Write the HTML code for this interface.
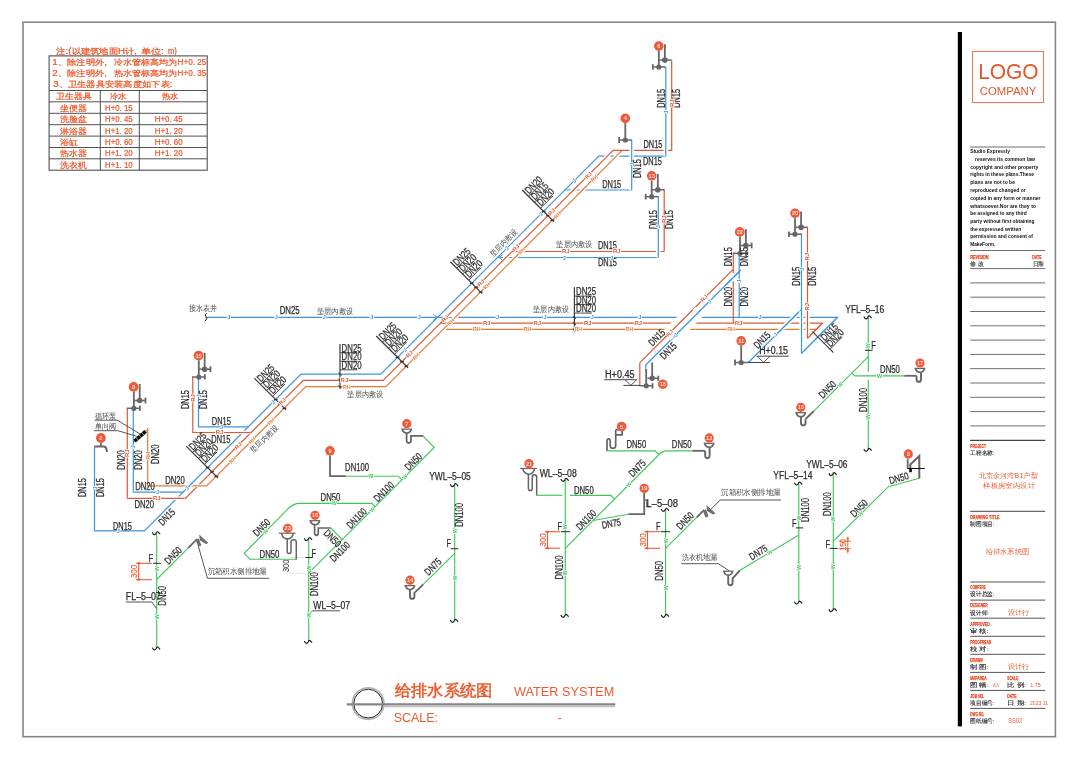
<!DOCTYPE html>
<html><head><meta charset="utf-8"><title>Water System</title>
<style>
html,body{margin:0;padding:0;background:#fff;}
body{width:1080px;height:758px;overflow:hidden;font-family:"Liberation Sans",sans-serif;}
svg{display:block;font-family:"Liberation Sans",sans-serif;will-change:transform;opacity:0.999;}
svg path, svg line{stroke-linecap:butt;stroke-linejoin:miter;}
.hl{paint-order:stroke;stroke:#fff;stroke-width:1.6px;stroke-linejoin:round;}
</style></head><body>
<svg width="1080" height="758" viewBox="0 0 1080 758">
<rect x="0" y="0" width="1080" height="758" fill="#ffffff"/>
<rect x="23" y="22.2" width="1032.4" height="714.5" fill="none" stroke="#858585" stroke-width="1.6"/>
<rect x="957.8" y="32" width="4.2" height="694.4" fill="#000"/>
<rect x="972.6" y="51.4" width="71" height="51.2" fill="none" stroke="#e8643f" stroke-width="0.9"/>
<text transform="translate(1008.4,71)" y="8.02" font-size="22.4" text-anchor="middle" fill="#e4572c" textLength="60.5" lengthAdjust="spacingAndGlyphs" >LOGO</text>
<text transform="translate(1008,91.6)" y="3.58" font-size="10" text-anchor="middle" fill="#e4572c" textLength="56.5" lengthAdjust="spacingAndGlyphs" >COMPANY</text>
<path d="M970.2,147 L1045.2,147" stroke="#6e6e6e" stroke-width="1" fill="none" />
<path d="M970.2,250.5 L1045.2,250.5" stroke="#6e6e6e" stroke-width="1" fill="none" />
<path d="M970.2,268.6 L1045.2,268.6" stroke="#6e6e6e" stroke-width="1" fill="none" />
<path d="M970.2,282.9 L1045.2,282.9" stroke="#6e6e6e" stroke-width="1" fill="none" />
<path d="M970.2,297.2 L1045.2,297.2" stroke="#6e6e6e" stroke-width="1" fill="none" />
<path d="M970.2,311.5 L1045.2,311.5" stroke="#6e6e6e" stroke-width="1" fill="none" />
<path d="M970.2,325.8 L1045.2,325.8" stroke="#6e6e6e" stroke-width="1" fill="none" />
<path d="M970.2,340.1 L1045.2,340.1" stroke="#6e6e6e" stroke-width="1" fill="none" />
<path d="M970.2,354.4 L1045.2,354.4" stroke="#6e6e6e" stroke-width="1" fill="none" />
<path d="M970.2,368.7 L1045.2,368.7" stroke="#6e6e6e" stroke-width="1" fill="none" />
<path d="M970.2,383 L1045.2,383" stroke="#6e6e6e" stroke-width="1" fill="none" />
<path d="M970.2,397.3 L1045.2,397.3" stroke="#6e6e6e" stroke-width="1" fill="none" />
<path d="M970.2,411.6 L1045.2,411.6" stroke="#6e6e6e" stroke-width="1" fill="none" />
<path d="M970.2,425.9 L1045.2,425.9" stroke="#6e6e6e" stroke-width="1" fill="none" />
<path d="M970.2,440.2 L1045.2,440.2" stroke="#6e6e6e" stroke-width="1" fill="none" />
<path d="M970.2,440.5 L1045.2,440.5" stroke="#444" stroke-width="1" fill="none" />
<path d="M970.2,511.3 L1045.2,511.3" stroke="#444" stroke-width="1" fill="none" />
<path d="M970.2,582 L1045.2,582" stroke="#555" stroke-width="1" fill="none" />
<path d="M970.2,600.1 L1045.2,600.1" stroke="#555" stroke-width="1" fill="none" />
<path d="M970.2,618.2 L1045.2,618.2" stroke="#555" stroke-width="1" fill="none" />
<path d="M970.2,636.3 L1045.2,636.3" stroke="#555" stroke-width="1" fill="none" />
<path d="M970.2,654.3 L1045.2,654.3" stroke="#555" stroke-width="1" fill="none" />
<path d="M970.2,672.4 L1045.2,672.4" stroke="#555" stroke-width="1" fill="none" />
<path d="M970.2,690.4 L1045.2,690.4" stroke="#555" stroke-width="1" fill="none" />
<path d="M970.2,708.4 L1045.2,708.4" stroke="#555" stroke-width="1" fill="none" />
<text transform="translate(970.2,151.1)" y="1.59" font-size="5.3" text-anchor="start" fill="#111" textLength="39.7" lengthAdjust="spacingAndGlyphs" font-weight="bold">Studio Expressly</text>
<text transform="translate(975,159.4)" y="1.59" font-size="5.3" text-anchor="start" fill="#111" textLength="59.9" lengthAdjust="spacingAndGlyphs" font-weight="bold">reserves its common law</text>
<text transform="translate(970.2,167.4)" y="1.59" font-size="5.3" text-anchor="start" fill="#111" textLength="68" lengthAdjust="spacingAndGlyphs" font-weight="bold">copyright and other property</text>
<text transform="translate(970.2,174.8)" y="1.59" font-size="5.3" text-anchor="start" fill="#111" textLength="63.9" lengthAdjust="spacingAndGlyphs" font-weight="bold">rights in these plans.These</text>
<text transform="translate(970.2,182.9)" y="1.59" font-size="5.3" text-anchor="start" fill="#111" textLength="44.8" lengthAdjust="spacingAndGlyphs" font-weight="bold">plans are not to be</text>
<text transform="translate(970.2,190.4)" y="1.59" font-size="5.3" text-anchor="start" fill="#111" textLength="55.4" lengthAdjust="spacingAndGlyphs" font-weight="bold">reproduced changed or</text>
<text transform="translate(970.2,198)" y="1.59" font-size="5.3" text-anchor="start" fill="#111" textLength="70.2" lengthAdjust="spacingAndGlyphs" font-weight="bold">copied in any form or manner</text>
<text transform="translate(970.2,206)" y="1.59" font-size="5.3" text-anchor="start" fill="#111" textLength="65.8" lengthAdjust="spacingAndGlyphs" font-weight="bold">whatsoever.Nor are they to</text>
<text transform="translate(970.2,213.6)" y="1.59" font-size="5.3" text-anchor="start" fill="#111" textLength="56.5" lengthAdjust="spacingAndGlyphs" font-weight="bold">be assigned to any third</text>
<text transform="translate(970.2,221.1)" y="1.59" font-size="5.3" text-anchor="start" fill="#111" textLength="64.3" lengthAdjust="spacingAndGlyphs" font-weight="bold">party without first obtaining</text>
<text transform="translate(970.2,229.5)" y="1.59" font-size="5.3" text-anchor="start" fill="#111" textLength="51" lengthAdjust="spacingAndGlyphs" font-weight="bold">the expressed written</text>
<text transform="translate(970.2,236.9)" y="1.59" font-size="5.3" text-anchor="start" fill="#111" textLength="62.8" lengthAdjust="spacingAndGlyphs" font-weight="bold">permission and consent of</text>
<text transform="translate(970.2,244.1)" y="1.59" font-size="5.3" text-anchor="start" fill="#111" textLength="25.1" lengthAdjust="spacingAndGlyphs" font-weight="bold">MakeForm.</text>
<text transform="translate(970.2,256.6)" y="2" font-size="5.6" text-anchor="start" fill="#e8431a" textLength="18.4" lengthAdjust="spacingAndGlyphs" font-weight="bold" stroke="#e8431a" stroke-width="0.25">REVISION</text>
<text transform="translate(1032.3,256.6)" y="2" font-size="5.6" text-anchor="start" fill="#e8431a" textLength="9.2" lengthAdjust="spacingAndGlyphs" font-weight="bold" stroke="#e8431a" stroke-width="0.25">DATE</text>
<text transform="translate(970.2,263.8)" y="2.02" font-size="5.6" text-anchor="start" fill="#2a2a2a" textLength="13.8" lengthAdjust="spacingAndGlyphs" stroke="#2a2a2a" stroke-width="0.12">修 改</text>
<text transform="translate(1032.6,263.8)" y="2.02" font-size="5.6" text-anchor="start" fill="#2a2a2a" textLength="11.1" lengthAdjust="spacingAndGlyphs" stroke="#2a2a2a" stroke-width="0.12">日期</text>
<text transform="translate(970.2,445.7)" y="2" font-size="5.6" text-anchor="start" fill="#e8431a" textLength="15.8" lengthAdjust="spacingAndGlyphs" font-weight="bold" stroke="#e8431a" stroke-width="0.25">PROJECT</text>
<text transform="translate(970.2,453.3)" y="2.02" font-size="5.6" text-anchor="start" fill="#2a2a2a" textLength="24.2" lengthAdjust="spacingAndGlyphs" stroke="#2a2a2a" stroke-width="0.12">工程名称:</text>
<text transform="translate(1008.3,474.9)" y="2.65" font-size="7.4" text-anchor="middle" fill="#ee5a2e" textLength="58.6" lengthAdjust="spacingAndGlyphs" >北京金河湾B1户型</text>
<text transform="translate(1009.1,485.1)" y="2.65" font-size="7.4" text-anchor="middle" fill="#ee5a2e" textLength="51.6" lengthAdjust="spacingAndGlyphs" >样板房室内设计</text>
<text transform="translate(970.2,516.5)" y="2" font-size="5.6" text-anchor="start" fill="#e8431a" textLength="29.2" lengthAdjust="spacingAndGlyphs" font-weight="bold" stroke="#e8431a" stroke-width="0.25">DRAWING TITLE</text>
<text transform="translate(970.2,524.1)" y="2.02" font-size="5.6" text-anchor="start" fill="#2a2a2a" textLength="24.2" lengthAdjust="spacingAndGlyphs" stroke="#2a2a2a" stroke-width="0.12">制图项目:</text>
<text transform="translate(1007.4,551.4)" y="2.65" font-size="7.4" text-anchor="middle" fill="#ee5a2e" textLength="43.8" lengthAdjust="spacingAndGlyphs" >给排水系统图</text>
<text transform="translate(970.2,587.3)" y="2" font-size="5.6" text-anchor="start" fill="#e8431a" textLength="15.5" lengthAdjust="spacingAndGlyphs" font-weight="bold" stroke="#e8431a" stroke-width="0.25">COMPERE</text>
<text transform="translate(970.2,594.4)" y="2.02" font-size="5.6" text-anchor="start" fill="#2a2a2a" textLength="24.2" lengthAdjust="spacingAndGlyphs" stroke="#2a2a2a" stroke-width="0.12">设计总监:</text>
<text transform="translate(970.2,605.4)" y="2" font-size="5.6" text-anchor="start" fill="#e8431a" textLength="17.5" lengthAdjust="spacingAndGlyphs" font-weight="bold" stroke="#e8431a" stroke-width="0.25">DESIGNER</text>
<text transform="translate(970.2,612.5)" y="2.02" font-size="5.6" text-anchor="start" fill="#2a2a2a" textLength="18.5" lengthAdjust="spacingAndGlyphs" stroke="#2a2a2a" stroke-width="0.12">设计师:</text>
<text transform="translate(970.2,623.5)" y="2" font-size="5.6" text-anchor="start" fill="#e8431a" textLength="19.5" lengthAdjust="spacingAndGlyphs" font-weight="bold" stroke="#e8431a" stroke-width="0.25">APPROVED</text>
<text transform="translate(970.2,630.6)" y="2.02" font-size="5.6" text-anchor="start" fill="#2a2a2a" textLength="18.5" lengthAdjust="spacingAndGlyphs" stroke="#2a2a2a" stroke-width="0.12">审 核:</text>
<text transform="translate(970.2,641.6)" y="2" font-size="5.6" text-anchor="start" fill="#e8431a" textLength="21" lengthAdjust="spacingAndGlyphs" font-weight="bold" stroke="#e8431a" stroke-width="0.25">PROOFREAD</text>
<text transform="translate(970.2,648.7)" y="2.02" font-size="5.6" text-anchor="start" fill="#2a2a2a" textLength="18.5" lengthAdjust="spacingAndGlyphs" stroke="#2a2a2a" stroke-width="0.12">校 对:</text>
<text transform="translate(970.2,659.6)" y="2" font-size="5.6" text-anchor="start" fill="#e8431a" textLength="12.5" lengthAdjust="spacingAndGlyphs" font-weight="bold" stroke="#e8431a" stroke-width="0.25">DRAWN</text>
<text transform="translate(970.2,666.7)" y="2.02" font-size="5.6" text-anchor="start" fill="#2a2a2a" textLength="18.5" lengthAdjust="spacingAndGlyphs" stroke="#2a2a2a" stroke-width="0.12">制 图:</text>
<text transform="translate(970.2,677.7)" y="2" font-size="5.6" text-anchor="start" fill="#e8431a" textLength="16.5" lengthAdjust="spacingAndGlyphs" font-weight="bold" stroke="#e8431a" stroke-width="0.25">MAPAREA</text>
<text transform="translate(970.2,684.8)" y="2.02" font-size="5.6" text-anchor="start" fill="#2a2a2a" textLength="18.5" lengthAdjust="spacingAndGlyphs" stroke="#2a2a2a" stroke-width="0.12">图 幅:</text>
<text transform="translate(970.2,695.7)" y="2" font-size="5.6" text-anchor="start" fill="#e8431a" textLength="14" lengthAdjust="spacingAndGlyphs" font-weight="bold" stroke="#e8431a" stroke-width="0.25">JOB NO.</text>
<text transform="translate(970.2,702.8)" y="2.02" font-size="5.6" text-anchor="start" fill="#2a2a2a" textLength="24.2" lengthAdjust="spacingAndGlyphs" stroke="#2a2a2a" stroke-width="0.12">项目编号:</text>
<text transform="translate(970.2,713.7)" y="2" font-size="5.6" text-anchor="start" fill="#e8431a" textLength="14" lengthAdjust="spacingAndGlyphs" font-weight="bold" stroke="#e8431a" stroke-width="0.25">DWG NO.</text>
<text transform="translate(970.2,720.8)" y="2.02" font-size="5.6" text-anchor="start" fill="#2a2a2a" textLength="24.2" lengthAdjust="spacingAndGlyphs" stroke="#2a2a2a" stroke-width="0.12">图纸编号:</text>
<text transform="translate(1007.3,677.7)" y="2" font-size="5.6" text-anchor="start" fill="#e8431a" textLength="11" lengthAdjust="spacingAndGlyphs" font-weight="bold" stroke="#e8431a" stroke-width="0.25">SCALE</text>
<text transform="translate(1007.3,684.8)" y="2.02" font-size="5.6" text-anchor="start" fill="#2a2a2a" textLength="18.7" lengthAdjust="spacingAndGlyphs" stroke="#2a2a2a" stroke-width="0.12">比 例:</text>
<text transform="translate(1007.3,695.7)" y="2" font-size="5.6" text-anchor="start" fill="#e8431a" textLength="9.2" lengthAdjust="spacingAndGlyphs" font-weight="bold" stroke="#e8431a" stroke-width="0.25">DATE</text>
<text transform="translate(1007.3,702.8)" y="2.02" font-size="5.6" text-anchor="start" fill="#2a2a2a" textLength="18.7" lengthAdjust="spacingAndGlyphs" stroke="#2a2a2a" stroke-width="0.12">日 期:</text>
<text transform="translate(1018.3,612.2)" y="2.61" font-size="7.3" text-anchor="middle" fill="#ee5a2e" textLength="21.3" lengthAdjust="spacingAndGlyphs" >设计行</text>
<text transform="translate(1018.3,666.4)" y="2.61" font-size="7.3" text-anchor="middle" fill="#ee5a2e" textLength="21.3" lengthAdjust="spacingAndGlyphs" >设计行</text>
<text transform="translate(995.9,684.8)" y="1.79" font-size="5" text-anchor="middle" fill="#ee5a2e" textLength="5.6" lengthAdjust="spacingAndGlyphs" >A3</text>
<text transform="translate(1035.4,684.8)" y="1.79" font-size="5" text-anchor="middle" fill="#ee5a2e" textLength="10.5" lengthAdjust="spacingAndGlyphs" >1:75</text>
<text transform="translate(1039,702.8)" y="1.79" font-size="5" text-anchor="middle" fill="#ee5a2e" textLength="18" lengthAdjust="spacingAndGlyphs" >2023.11</text>
<text transform="translate(1015.2,720.8)" y="2.51" font-size="7" text-anchor="middle" fill="#ee5a2e" textLength="14.1" lengthAdjust="spacingAndGlyphs" >SS02</text>
<circle cx="368.2" cy="703.6" r="15.8" fill="none" stroke="#b0b0b0" stroke-width="1.6"/>
<circle cx="368.2" cy="703.6" r="14.4" fill="none" stroke="#222" stroke-width="1"/>
<path d="M346.7,704.4 L615.2,704.4" stroke="#858585" stroke-width="2.3" fill="none" />
<path d="M383.5,706.4 L615.2,706.4" stroke="#bdbdbd" stroke-width="1.5" fill="none" />
<text transform="translate(443.5,690.4)" y="5.99" font-size="16.2" text-anchor="middle" fill="#ee5526" textLength="98" lengthAdjust="spacingAndGlyphs" stroke="#ee5526" stroke-width="0.45">给排水系统图</text>
<text transform="translate(564.2,691.1)" y="4.76" font-size="13.3" text-anchor="middle" fill="#ee5a2e" textLength="100.4" lengthAdjust="spacingAndGlyphs" >WATER SYSTEM</text>
<text transform="translate(415.8,717.1)" y="4.65" font-size="13" text-anchor="middle" fill="#ee5a2e" textLength="44.3" lengthAdjust="spacingAndGlyphs" >SCALE:</text>
<text transform="translate(559.7,717.5)" y="4.65" font-size="13" text-anchor="middle" fill="#ee5a2e" >-</text>
<rect x="49.1" y="55.9" width="158.1" height="114.3" fill="none" stroke="#505050" stroke-width="1.1"/>
<path d="M49.1,90.5 L207.2,90.5" stroke="#505050" stroke-width="1" fill="none" />
<path d="M49.1,101.8 L207.2,101.8" stroke="#505050" stroke-width="1" fill="none" />
<path d="M49.1,113.3 L207.2,113.3" stroke="#505050" stroke-width="1" fill="none" />
<path d="M49.1,124.7 L207.2,124.7" stroke="#505050" stroke-width="1" fill="none" />
<path d="M49.1,136.1 L207.2,136.1" stroke="#505050" stroke-width="1" fill="none" />
<path d="M49.1,147.5 L207.2,147.5" stroke="#505050" stroke-width="1" fill="none" />
<path d="M49.1,158.8 L207.2,158.8" stroke="#505050" stroke-width="1" fill="none" />
<path d="M100.3,90.5 L100.3,170.2" stroke="#505050" stroke-width="1" fill="none" />
<path d="M139.3,90.5 L139.3,170.2" stroke="#505050" stroke-width="1" fill="none" />
<text transform="translate(56.3,51.3)" y="3.11" font-size="8.4" text-anchor="start" fill="#ef5424" textLength="80.7" lengthAdjust="spacingAndGlyphs" stroke="#ef5424" stroke-width="0.22">注:(以建筑地面H计,</text>
<text transform="translate(140.6,51.3)" y="3.11" font-size="8.4" text-anchor="start" fill="#ef5424" textLength="23.4" lengthAdjust="spacingAndGlyphs" stroke="#ef5424" stroke-width="0.22">单位:</text>
<text transform="translate(168,51.3)" y="3.11" font-size="8.4" text-anchor="start" fill="#ef5424" textLength="8.9" lengthAdjust="spacingAndGlyphs" stroke="#ef5424" stroke-width="0.22">m)</text>
<text transform="translate(52.3,62)" y="3.11" font-size="8.4" text-anchor="start" fill="#ef5424" textLength="54.7" lengthAdjust="spacingAndGlyphs" stroke="#ef5424" stroke-width="0.22">1、除注明外,</text>
<text transform="translate(113.5,62)" y="3.11" font-size="8.4" text-anchor="start" fill="#ef5424" textLength="63.7" lengthAdjust="spacingAndGlyphs" stroke="#ef5424" stroke-width="0.22">冷水管标高均为</text>
<text transform="translate(177.6,62)" y="3.11" font-size="8.4" text-anchor="start" fill="#ef5424" textLength="28.7" lengthAdjust="spacingAndGlyphs" stroke="#ef5424" stroke-width="0.22">H+0. 25</text>
<text transform="translate(52.3,73.3)" y="3.11" font-size="8.4" text-anchor="start" fill="#ef5424" textLength="54.7" lengthAdjust="spacingAndGlyphs" stroke="#ef5424" stroke-width="0.22">2、除注明外,</text>
<text transform="translate(113.5,73.3)" y="3.11" font-size="8.4" text-anchor="start" fill="#ef5424" textLength="63.7" lengthAdjust="spacingAndGlyphs" stroke="#ef5424" stroke-width="0.22">热水管标高均为</text>
<text transform="translate(177.6,73.3)" y="3.11" font-size="8.4" text-anchor="start" fill="#ef5424" textLength="28.7" lengthAdjust="spacingAndGlyphs" stroke="#ef5424" stroke-width="0.22">H+0. 35</text>
<text transform="translate(53.3,83.7)" y="3.11" font-size="8.4" text-anchor="start" fill="#ef5424" textLength="119.2" lengthAdjust="spacingAndGlyphs" stroke="#ef5424" stroke-width="0.22">3、卫生器具安装高度如下表:</text>
<text transform="translate(56.2,96.2)" y="3.11" font-size="8.4" text-anchor="start" fill="#ef5424" textLength="35.5" lengthAdjust="spacingAndGlyphs" stroke="#ef5424" stroke-width="0.22">卫生器具</text>
<text transform="translate(110,96.2)" y="3.11" font-size="8.4" text-anchor="start" fill="#ef5424" textLength="16.7" lengthAdjust="spacingAndGlyphs" stroke="#ef5424" stroke-width="0.22">冷水</text>
<text transform="translate(161.7,96.2)" y="3.11" font-size="8.4" text-anchor="start" fill="#ef5424" textLength="16.6" lengthAdjust="spacingAndGlyphs" stroke="#ef5424" stroke-width="0.22">热水</text>
<text transform="translate(60.3,107.6)" y="3.11" font-size="8.4" text-anchor="start" fill="#ef5424" textLength="26.7" lengthAdjust="spacingAndGlyphs" stroke="#ef5424" stroke-width="0.22">坐便器</text>
<text transform="translate(105,107.6)" y="3.11" font-size="8.4" text-anchor="start" fill="#ef5424" textLength="27.7" lengthAdjust="spacingAndGlyphs" stroke="#ef5424" stroke-width="0.22">H+0. 15</text>
<text transform="translate(60.3,119)" y="3.11" font-size="8.4" text-anchor="start" fill="#ef5424" textLength="26.7" lengthAdjust="spacingAndGlyphs" stroke="#ef5424" stroke-width="0.22">洗脸盆</text>
<text transform="translate(105,119)" y="3.11" font-size="8.4" text-anchor="start" fill="#ef5424" textLength="27.7" lengthAdjust="spacingAndGlyphs" stroke="#ef5424" stroke-width="0.22">H+0. 45</text>
<text transform="translate(154.7,119)" y="3.11" font-size="8.4" text-anchor="start" fill="#ef5424" textLength="27.9" lengthAdjust="spacingAndGlyphs" stroke="#ef5424" stroke-width="0.22">H+0. 45</text>
<text transform="translate(60.3,130.4)" y="3.11" font-size="8.4" text-anchor="start" fill="#ef5424" textLength="26.7" lengthAdjust="spacingAndGlyphs" stroke="#ef5424" stroke-width="0.22">淋浴器</text>
<text transform="translate(105,130.4)" y="3.11" font-size="8.4" text-anchor="start" fill="#ef5424" textLength="27.7" lengthAdjust="spacingAndGlyphs" stroke="#ef5424" stroke-width="0.22">H+1. 20</text>
<text transform="translate(154.7,130.4)" y="3.11" font-size="8.4" text-anchor="start" fill="#ef5424" textLength="27.9" lengthAdjust="spacingAndGlyphs" stroke="#ef5424" stroke-width="0.22">H+1. 20</text>
<text transform="translate(60.3,141.8)" y="3.11" font-size="8.4" text-anchor="start" fill="#ef5424" textLength="17.8" lengthAdjust="spacingAndGlyphs" stroke="#ef5424" stroke-width="0.22">浴缸</text>
<text transform="translate(105,141.8)" y="3.11" font-size="8.4" text-anchor="start" fill="#ef5424" textLength="27.7" lengthAdjust="spacingAndGlyphs" stroke="#ef5424" stroke-width="0.22">H+0. 60</text>
<text transform="translate(154.7,141.8)" y="3.11" font-size="8.4" text-anchor="start" fill="#ef5424" textLength="27.9" lengthAdjust="spacingAndGlyphs" stroke="#ef5424" stroke-width="0.22">H+0. 60</text>
<text transform="translate(60.3,153.2)" y="3.11" font-size="8.4" text-anchor="start" fill="#ef5424" textLength="26.7" lengthAdjust="spacingAndGlyphs" stroke="#ef5424" stroke-width="0.22">热水器</text>
<text transform="translate(105,153.2)" y="3.11" font-size="8.4" text-anchor="start" fill="#ef5424" textLength="27.7" lengthAdjust="spacingAndGlyphs" stroke="#ef5424" stroke-width="0.22">H+1. 20</text>
<text transform="translate(154.7,153.2)" y="3.11" font-size="8.4" text-anchor="start" fill="#ef5424" textLength="27.9" lengthAdjust="spacingAndGlyphs" stroke="#ef5424" stroke-width="0.22">H+1. 20</text>
<text transform="translate(60.3,164.6)" y="3.11" font-size="8.4" text-anchor="start" fill="#ef5424" textLength="26.7" lengthAdjust="spacingAndGlyphs" stroke="#ef5424" stroke-width="0.22">洗衣机</text>
<text transform="translate(105,164.6)" y="3.11" font-size="8.4" text-anchor="start" fill="#ef5424" textLength="27.7" lengthAdjust="spacingAndGlyphs" stroke="#ef5424" stroke-width="0.22">H+1. 10</text>
<path d="M147.7,428 L147.7,485.8 L206.6,485.8 L305.7,386.7 L385.8,386.7 L622.2,150.3" stroke="#e67c34" stroke-width="1.2" fill="none" />
<path d="M127.3,407.8 L127.3,498.3 L185.4,498.3 L303.4,380.3 L383.2,380.3 L613.2,150.3 L671.7,150.3 L671.7,60.3" stroke="#dc5a3a" stroke-width="1.2" fill="none" />
<path d="M94.5,446.6 L94.5,530.8 L144.4,530.8 L301,374.2 L380.8,374.2 L598.8,156.2 L665.8,156.2" stroke="#3f95db" stroke-width="1.2" fill="none" />
<path d="M443.1,329.4 L816.4,329.4" stroke="#e67c34" stroke-width="1.2" fill="none" />
<path d="M440.3,323.2 L822.5,323.2 L807.5,338.3" stroke="#dc5a3a" stroke-width="1.2" fill="none" />
<path d="M205.5,317.3 L837.5,317.3 L801.5,353.3" stroke="#3f95db" stroke-width="1.2" fill="none" />
<path d="M512,251.5 L664.2,251.5" stroke="#dc5a3a" stroke-width="1.2" fill="none" />
<path d="M497.5,257.5 L658.3,257.5" stroke="#3f95db" stroke-width="1.2" fill="none" />
<path d="M565,190 L631.7,190" stroke="#3f95db" stroke-width="1.2" fill="none" />
<path d="M133.3,408.3 L133.3,492.2 L183,492.2" stroke="#3f95db" stroke-width="1.2" fill="none" />
<path d="M192.8,377 L192.8,432.5 L251.2,432.5" stroke="#dc5a3a" stroke-width="1.2" fill="none" />
<path d="M198.5,377 L198.5,426.8 L248.4,426.8" stroke="#3f95db" stroke-width="1.2" fill="none" />
<path d="M150,498.3 L184.4,498.3" stroke="#fff" stroke-width="3.6" fill="none" />
<path d="M150,498.3 L184.4,498.3" stroke="#dc5a3a" stroke-width="1.2" fill="none" />
<path d="M127.3,480 L127.3,497.6" stroke="#fff" stroke-width="3" fill="none" />
<path d="M127.3,480 L127.3,497.6" stroke="#dc5a3a" stroke-width="1.2" fill="none" />
<path d="M133.3,470 L133.3,491.6" stroke="#fff" stroke-width="3" fill="none" />
<path d="M133.3,470 L133.3,491.6" stroke="#3f95db" stroke-width="1.2" fill="none" />
<path d="M160,485.8 L202.6,485.8" stroke="#fff" stroke-width="3" fill="none" />
<path d="M160,485.8 L202.6,485.8" stroke="#e67c34" stroke-width="1.2" fill="none" />
<path d="M193.2,482 L185.7,489.5" stroke="#fff" stroke-width="4" fill="none" />
<path d="M193.2,482 L185.7,489.5" stroke="#3f95db" stroke-width="1.2" fill="none" />
<path d="M236,432.5 L250.7,432.5" stroke="#fff" stroke-width="3.4" fill="none" />
<path d="M236,432.5 L250.7,432.5" stroke="#dc5a3a" stroke-width="1.2" fill="none" />
<path d="M440,323.5 L451.2,312.3" stroke="#fff" stroke-width="4.4" fill="none" />
<path d="M440,323.5 L451.2,312.3" stroke="#dc5a3a" stroke-width="1.2" fill="none" />
<path d="M501,262.5 L511.5,252" stroke="#fff" stroke-width="4.4" fill="none" />
<path d="M501,262.5 L511.5,252" stroke="#dc5a3a" stroke-width="1.2" fill="none" />
<path d="M569,194.5 L578,185.5" stroke="#fff" stroke-width="4.4" fill="none" />
<path d="M569,194.5 L578,185.5" stroke="#dc5a3a" stroke-width="1.2" fill="none" />
<path d="M602.8,160.7 L610.3,153.2" stroke="#fff" stroke-width="4.4" fill="none" />
<path d="M602.8,160.7 L610.3,153.2" stroke="#dc5a3a" stroke-width="1.2" fill="none" />
<path d="M442.1,330.4 L460.2,312.3" stroke="#fff" stroke-width="4.4" fill="none" />
<path d="M442.1,330.4 L460.2,312.3" stroke="#e67c34" stroke-width="1.2" fill="none" />
<path d="M510,262.5 L520.5,252" stroke="#fff" stroke-width="4.4" fill="none" />
<path d="M510,262.5 L520.5,252" stroke="#e67c34" stroke-width="1.2" fill="none" />
<path d="M578,194.5 L587,185.5" stroke="#fff" stroke-width="4.4" fill="none" />
<path d="M578,194.5 L587,185.5" stroke="#e67c34" stroke-width="1.2" fill="none" />
<path d="M611.8,160.7 L619.3,153.2" stroke="#fff" stroke-width="4.4" fill="none" />
<path d="M611.8,160.7 L619.3,153.2" stroke="#e67c34" stroke-width="1.2" fill="none" />
<path d="M440.3,323.2 L444.3,323.2" stroke="#dc5a3a" stroke-width="1.2" fill="none" />
<path d="M512,251.5 L516,251.5" stroke="#dc5a3a" stroke-width="1.2" fill="none" />
<path d="M665.8,156.2 L665.8,67" stroke="#fff" stroke-width="4.6" fill="none" />
<path d="M665.8,156.2 L665.8,67" stroke="#3f95db" stroke-width="1.2" fill="none" />
<path d="M631.7,190 L631.7,140" stroke="#fff" stroke-width="4.6" fill="none" />
<path d="M631.7,190 L631.7,140" stroke="#3f95db" stroke-width="1.2" fill="none" />
<path d="M658.3,257.5 L658.3,196.7" stroke="#fff" stroke-width="4.6" fill="none" />
<path d="M658.3,257.5 L658.3,196.7" stroke="#3f95db" stroke-width="1.2" fill="none" />
<path d="M664.2,251.5 L664.2,189.5" stroke="#dc5a3a" stroke-width="1.2" fill="none" />
<path d="M733.3,253.3 L733.3,323.2" stroke="#dc5a3a" stroke-width="1.2" fill="none" />
<path d="M739.2,253.3 L739.2,317.3" stroke="#3f95db" stroke-width="1.2" fill="none" />
<path d="M639.8,362.7 L639.8,385.8" stroke="#dc5a3a" stroke-width="1.2" fill="none" />
<path d="M645.8,365 L645.8,371" stroke="#3f95db" stroke-width="1.2" fill="none" />
<path d="M733.3,269.2 L690.5,312" stroke="#dc5a3a" stroke-width="1.2" fill="none" />
<path d="M667.5,335 L639.8,362.7" stroke="#dc5a3a" stroke-width="1.2" fill="none" />
<path d="M739.2,271.6 L698.8,312" stroke="#3f95db" stroke-width="1.2" fill="none" />
<path d="M675.8,335 L645.8,365" stroke="#3f95db" stroke-width="1.2" fill="none" />
<path d="M691.5,311 L666.5,336" stroke="#fff" stroke-width="12" fill="none" />
<path d="M699.8,311 L674.8,336" stroke="#fff" stroke-width="12" fill="none" />
<path d="M692.5,310 L665.5,337" stroke="#dc5a3a" stroke-width="1.2" fill="none" />
<path d="M700.8,310 L673.8,337" stroke="#3f95db" stroke-width="1.2" fill="none" />
<path d="M733.3,273.2 L733.3,281.4" stroke="#fff" stroke-width="2.4" fill="none" />
<path d="M740.8,270 L725.8,285" stroke="#3f95db" stroke-width="1.2" fill="none" />
<path d="M775,335.8 L799,311.8" stroke="#fff" stroke-width="4.6" fill="none" />
<path d="M775,335.8 L799,311.8" stroke="#3f95db" stroke-width="1.2" fill="none" />
<path d="M748.3,362.5 L801.5,309.3" stroke="#3f95db" stroke-width="1.2" fill="none" />
<path d="M801.5,353.3 L801.5,311" stroke="#fff" stroke-width="4.4" fill="none" />
<path d="M801.5,353.3 L801.5,311" stroke="#3f95db" stroke-width="1.2" fill="none" />
<path d="M801.5,311 L801.5,234.2" stroke="#3f95db" stroke-width="1.2" fill="none" />
<path d="M807.5,338.3 L807.5,312" stroke="#fff" stroke-width="4.4" fill="none" />
<path d="M807.5,338.3 L807.5,312" stroke="#dc5a3a" stroke-width="1.2" fill="none" />
<path d="M807.5,312 L807.5,227.5" stroke="#dc5a3a" stroke-width="1.2" fill="none" />
<path d="M822.5,323.2 L807.5,338.3" stroke="#dc5a3a" stroke-width="1.2" fill="none" />
<path d="M837.5,317.3 L801.5,353.3" stroke="#3f95db" stroke-width="1.2" fill="none" />
<path d="M133.3,442.2 L134.4,441.4" stroke="#000" stroke-width="1" fill="none" />
<path d="M134.6,441.2 L146,431" stroke="#000" stroke-width="3.6" fill="none" stroke-dasharray="3.3 0.5"/>
<path d="M146,431 L147.7,429.4" stroke="#e67c34" stroke-width="1.2" fill="none" />
<path d="M206.6,313.2 q-2.6,1.6 -0.6,3.6 q2.4,2 -1.2,4.4" stroke="#111" stroke-width="0.9" fill="none" />
<path d="M433.1,314.2 l4.2,3.1 l-4.2,3.1" stroke="#3f95db" stroke-width="0.9" fill="none" />
<path d="M502.7,254.5 l-3.6,3 l3.6,3" stroke="#3f95db" stroke-width="0.9" fill="none" />
<path d="M133.85,391.6 L133.85,408.3" stroke="#666666" stroke-width="1.8" fill="none" />
<path d="M127.05,408.3 L139.85,408.3" stroke="#666666" stroke-width="1.5" fill="none" />
<path d="M139.85,405.5 L139.85,410.9" stroke="#666666" stroke-width="1.8" fill="none" />
<circle cx="133.85" cy="408.3" r="2.6" fill="#666666"/>
<path d="M139.7,384.1 L139.7,400.5" stroke="#666666" stroke-width="1.8" fill="none" />
<path d="M133.35,400.5 L145.5,400.5" stroke="#666666" stroke-width="1.5" fill="none" />
<path d="M145.5,397.6 L145.5,403.4" stroke="#666666" stroke-width="1.8" fill="none" />
<circle cx="139.7" cy="400.5" r="2.8" fill="#666666"/>
<circle cx="133.6" cy="386.9" r="4.9" fill="#f05a3a"/>
<text transform="translate(133.6,386.9)" y="2.02" font-size="5.6" text-anchor="middle" fill="#fff" font-weight="bold" opacity="0.82">8</text>
<path d="M198.8,360.3 L198.8,377" stroke="#666666" stroke-width="1.8" fill="none" />
<path d="M192,377 L204.8,377" stroke="#666666" stroke-width="1.5" fill="none" />
<path d="M204.8,374.2 L204.8,379.6" stroke="#666666" stroke-width="1.8" fill="none" />
<circle cx="198.8" cy="377" r="2.6" fill="#666666"/>
<path d="M204.65,352.8 L204.65,369.2" stroke="#666666" stroke-width="1.8" fill="none" />
<path d="M198.3,369.2 L210.45,369.2" stroke="#666666" stroke-width="1.5" fill="none" />
<path d="M210.45,366.3 L210.45,372.1" stroke="#666666" stroke-width="1.8" fill="none" />
<circle cx="204.65" cy="369.2" r="2.8" fill="#666666"/>
<circle cx="198.55" cy="355.6" r="4.9" fill="#f05a3a"/>
<text transform="translate(198.55,355.6)" y="2.02" font-size="5.6" text-anchor="middle" fill="#fff" font-weight="bold" opacity="0.82">15</text>
<path d="M740,236.6 L740,253.3" stroke="#666666" stroke-width="1.8" fill="none" />
<path d="M733.2,253.3 L746,253.3" stroke="#666666" stroke-width="1.5" fill="none" />
<path d="M746,250.5 L746,255.9" stroke="#666666" stroke-width="1.8" fill="none" />
<circle cx="740" cy="253.3" r="2.6" fill="#666666"/>
<path d="M745.85,229.1 L745.85,245.5" stroke="#666666" stroke-width="1.8" fill="none" />
<path d="M739.5,245.5 L751.65,245.5" stroke="#666666" stroke-width="1.5" fill="none" />
<path d="M751.65,242.6 L751.65,248.4" stroke="#666666" stroke-width="1.8" fill="none" />
<circle cx="745.85" cy="245.5" r="2.8" fill="#666666"/>
<circle cx="739.75" cy="231.9" r="4.9" fill="#f05a3a"/>
<text transform="translate(739.75,231.9)" y="2.02" font-size="5.6" text-anchor="middle" fill="#fff" font-weight="bold" opacity="0.82">22</text>
<path d="M658.8,51 L658.8,67" stroke="#666666" stroke-width="1.8" fill="none" />
<path d="M652.8,67 L665.8,67" stroke="#666666" stroke-width="1.5" fill="none" />
<path d="M652.8,64.2 L652.8,69.8" stroke="#666666" stroke-width="1.8" fill="none" />
<circle cx="658.8" cy="67" r="2.6" fill="#666666"/>
<path d="M664.9,44.2 L664.9,60.1" stroke="#666666" stroke-width="1.8" fill="none" />
<path d="M658.8,60.1 L671.6,60.1" stroke="#666666" stroke-width="1.5" fill="none" />
<circle cx="664.9" cy="60.1" r="2.8" fill="#666666"/>
<circle cx="658.8" cy="46.1" r="4.8" fill="#f05a3a"/>
<text transform="translate(658.8,46.1)" y="2.02" font-size="5.6" text-anchor="middle" fill="#fff" font-weight="bold" opacity="0.82">6</text>
<path d="M651.7,180.7 L651.7,196.7" stroke="#666666" stroke-width="1.8" fill="none" />
<path d="M645.7,196.7 L658.7,196.7" stroke="#666666" stroke-width="1.5" fill="none" />
<path d="M645.7,193.9 L645.7,199.5" stroke="#666666" stroke-width="1.8" fill="none" />
<circle cx="651.7" cy="196.7" r="2.6" fill="#666666"/>
<path d="M657.8,173.9 L657.8,189.8" stroke="#666666" stroke-width="1.8" fill="none" />
<path d="M651.7,189.8 L664.5,189.8" stroke="#666666" stroke-width="1.5" fill="none" />
<circle cx="657.8" cy="189.8" r="2.8" fill="#666666"/>
<circle cx="651.7" cy="175.8" r="4.8" fill="#f05a3a"/>
<text transform="translate(651.7,175.8)" y="2.02" font-size="5.6" text-anchor="middle" fill="#fff" font-weight="bold" opacity="0.82">13</text>
<path d="M795,218.2 L795,234.2" stroke="#666666" stroke-width="1.8" fill="none" />
<path d="M789,234.2 L802,234.2" stroke="#666666" stroke-width="1.5" fill="none" />
<path d="M789,231.4 L789,237" stroke="#666666" stroke-width="1.8" fill="none" />
<circle cx="795" cy="234.2" r="2.6" fill="#666666"/>
<path d="M801.1,211.4 L801.1,227.3" stroke="#666666" stroke-width="1.8" fill="none" />
<path d="M795,227.3 L807.8,227.3" stroke="#666666" stroke-width="1.5" fill="none" />
<circle cx="801.1" cy="227.3" r="2.8" fill="#666666"/>
<circle cx="795" cy="213.3" r="4.8" fill="#f05a3a"/>
<text transform="translate(795,213.3)" y="2.02" font-size="5.6" text-anchor="middle" fill="#fff" font-weight="bold" opacity="0.82">20</text>
<path d="M625.3,123 L625.3,140" stroke="#666666" stroke-width="1.8" fill="none" />
<path d="M619.1,140 L631.7,140" stroke="#666666" stroke-width="1.5" fill="none" />
<path d="M619.1,137.1 L619.1,142.9" stroke="#666666" stroke-width="1.8" fill="none" />
<circle cx="625.3" cy="140" r="2.6" fill="#666666"/>
<circle cx="625.3" cy="118.4" r="4.8" fill="#f05a3a"/>
<text transform="translate(625.3,118.4)" y="2.02" font-size="5.6" text-anchor="middle" fill="#fff" font-weight="bold" opacity="0.82">4</text>
<path d="M741.2,345.5 L741.2,362.5" stroke="#666666" stroke-width="1.8" fill="none" />
<path d="M735,362.5 L748.3,362.5" stroke="#666666" stroke-width="1.5" fill="none" />
<path d="M735,359.6 L735,365.4" stroke="#666666" stroke-width="1.8" fill="none" />
<circle cx="741.2" cy="362.5" r="2.6" fill="#666666"/>
<circle cx="741.2" cy="340.9" r="4.8" fill="#f05a3a"/>
<text transform="translate(741.2,340.9)" y="2.02" font-size="5.6" text-anchor="middle" fill="#fff" font-weight="bold" opacity="0.82">11</text>
<path d="M748.3,362.5 L770,362.5" stroke="#444" stroke-width="1" fill="none" />
<path d="M756.7,356.2 L788.7,356.2" stroke="#444" stroke-width="1" fill="none" />
<path d="M756.9,356.2 L763.6,362.3 L770,356.2" stroke="#444" stroke-width="0.9" fill="none" />
<path d="M646.2,369.2 L646.2,385.8" stroke="#666666" stroke-width="1.8" fill="none" />
<path d="M639.5,385.8 L652.5,385.8" stroke="#666666" stroke-width="1.5" fill="none" />
<path d="M652.5,383.2 L652.5,388.6" stroke="#666666" stroke-width="1.8" fill="none" />
<circle cx="646.2" cy="385.8" r="2.6" fill="#666666"/>
<path d="M652.2,362.5 L652.2,378.3" stroke="#666666" stroke-width="1.8" fill="none" />
<path d="M647.5,378.3 L658.3,378.3" stroke="#666666" stroke-width="1.5" fill="none" />
<path d="M658.3,375.7 L658.3,380.9" stroke="#666666" stroke-width="1.8" fill="none" />
<circle cx="652.2" cy="378.3" r="2.7" fill="#666666"/>
<circle cx="662.8" cy="384.2" r="4.8" fill="#f05a3a"/>
<text transform="translate(662.8,384.2)" y="2.02" font-size="5.6" text-anchor="middle" fill="#fff" font-weight="bold" opacity="0.82">18</text>
<path d="M604.2,379.7 L636.7,379.7" stroke="#444" stroke-width="1" fill="none" />
<path d="M625,379.7 L630.8,385.3 L636.7,379.7" stroke="#444" stroke-width="0.9" fill="none" />
<path d="M623.3,385.4 L640,385.4" stroke="#444" stroke-width="1" fill="none" />
<path d="M100.9,442.5 L100.9,446.6" stroke="#666666" stroke-width="1.7" fill="none" />
<path d="M94.3,446.6 H104 Q106.6,447 106.9,452" stroke="#666666" stroke-width="2" fill="none" />
<circle cx="100.9" cy="438" r="4.9" fill="#f05a3a"/>
<text transform="translate(100.9,438)" y="2.02" font-size="5.6" text-anchor="middle" fill="#fff" font-weight="bold" opacity="0.82">2</text>
<path d="M94.6,420.2 L117.4,420.2 L140.1,434" stroke="#444" stroke-width="0.9" fill="none" />
<path d="M94,430.7 L117.7,430.7 L136.8,436.3" stroke="#444" stroke-width="0.9" fill="none" />
<g transform="translate(207.6,467.6) rotate(-45)">
<path d="M0,-30.3 L0,14.7" stroke="#3a3a3a" stroke-width="1.2" fill="none" />
<path d="M0,-21.4 L17.5,-21.4" stroke="#3a3a3a" stroke-width="0.9" fill="none" />
<text transform="translate(1.6,-25.8)" y="3.42" font-size="10.2" text-anchor="start" fill="#2c2c2c" textLength="20" lengthAdjust="spacingAndGlyphs" stroke="#2c2c2c" stroke-width="0.25" >DN25</text>
<path d="M0,-12.9 L17.5,-12.9" stroke="#3a3a3a" stroke-width="0.9" fill="none" />
<text transform="translate(1.6,-17.3)" y="3.42" font-size="10.2" text-anchor="start" fill="#2c2c2c" textLength="20" lengthAdjust="spacingAndGlyphs" stroke="#2c2c2c" stroke-width="0.25" >DN20</text>
<path d="M0,-4.4 L17.5,-4.4" stroke="#3a3a3a" stroke-width="0.9" fill="none" />
<text transform="translate(1.6,-8.8)" y="3.42" font-size="10.2" text-anchor="start" fill="#2c2c2c" textLength="20" lengthAdjust="spacingAndGlyphs" stroke="#2c2c2c" stroke-width="0.25" >DN20</text>
<path d="M-1.6,-1.2 L1.6,1.2" stroke="#222" stroke-width="0.9" fill="none" />
<path d="M-1.6,4.9 L1.6,7.3" stroke="#222" stroke-width="0.9" fill="none" />
<path d="M-1.6,11.3 L1.6,13.7" stroke="#222" stroke-width="0.9" fill="none" />
</g>
<g transform="translate(275.7,399.5) rotate(-45)">
<path d="M0,-30.3 L0,14.7" stroke="#3a3a3a" stroke-width="1.2" fill="none" />
<path d="M0,-21.4 L17.5,-21.4" stroke="#3a3a3a" stroke-width="0.9" fill="none" />
<text transform="translate(1.6,-25.8)" y="3.42" font-size="10.2" text-anchor="start" fill="#2c2c2c" textLength="20" lengthAdjust="spacingAndGlyphs" stroke="#2c2c2c" stroke-width="0.25" >DN25</text>
<path d="M0,-12.9 L17.5,-12.9" stroke="#3a3a3a" stroke-width="0.9" fill="none" />
<text transform="translate(1.6,-17.3)" y="3.42" font-size="10.2" text-anchor="start" fill="#2c2c2c" textLength="20" lengthAdjust="spacingAndGlyphs" stroke="#2c2c2c" stroke-width="0.25" >DN20</text>
<path d="M0,-4.4 L17.5,-4.4" stroke="#3a3a3a" stroke-width="0.9" fill="none" />
<text transform="translate(1.6,-8.8)" y="3.42" font-size="10.2" text-anchor="start" fill="#2c2c2c" textLength="20" lengthAdjust="spacingAndGlyphs" stroke="#2c2c2c" stroke-width="0.25" >DN20</text>
<path d="M-1.6,-1.2 L1.6,1.2" stroke="#222" stroke-width="0.9" fill="none" />
<path d="M-1.6,4.9 L1.6,7.3" stroke="#222" stroke-width="0.9" fill="none" />
<path d="M-1.6,11.3 L1.6,13.7" stroke="#222" stroke-width="0.9" fill="none" />
</g>
<g transform="translate(340,374.2) rotate(0)">
<path d="M0,-30.3 L0,14.7" stroke="#3a3a3a" stroke-width="1.2" fill="none" />
<path d="M0,-21.4 L17.5,-21.4" stroke="#3a3a3a" stroke-width="0.9" fill="none" />
<text transform="translate(1.6,-25.8)" y="3.42" font-size="10.2" text-anchor="start" fill="#2c2c2c" textLength="20" lengthAdjust="spacingAndGlyphs" stroke="#2c2c2c" stroke-width="0.25" >DN25</text>
<path d="M0,-12.9 L17.5,-12.9" stroke="#3a3a3a" stroke-width="0.9" fill="none" />
<text transform="translate(1.6,-17.3)" y="3.42" font-size="10.2" text-anchor="start" fill="#2c2c2c" textLength="20" lengthAdjust="spacingAndGlyphs" stroke="#2c2c2c" stroke-width="0.25" >DN20</text>
<path d="M0,-4.4 L17.5,-4.4" stroke="#3a3a3a" stroke-width="0.9" fill="none" />
<text transform="translate(1.6,-8.8)" y="3.42" font-size="10.2" text-anchor="start" fill="#2c2c2c" textLength="20" lengthAdjust="spacingAndGlyphs" stroke="#2c2c2c" stroke-width="0.25" >DN20</text>
<path d="M-1.6,-1.2 L1.6,1.2" stroke="#222" stroke-width="0.9" fill="none" />
<path d="M-1.6,4.9 L1.6,7.3" stroke="#222" stroke-width="0.9" fill="none" />
<path d="M-1.6,11.3 L1.6,13.7" stroke="#222" stroke-width="0.9" fill="none" />
</g>
<g transform="translate(397.6,357.4) rotate(-45)">
<path d="M0,-30.3 L0,14.7" stroke="#3a3a3a" stroke-width="1.2" fill="none" />
<path d="M0,-21.4 L17.5,-21.4" stroke="#3a3a3a" stroke-width="0.9" fill="none" />
<text transform="translate(1.6,-25.8)" y="3.42" font-size="10.2" text-anchor="start" fill="#2c2c2c" textLength="20" lengthAdjust="spacingAndGlyphs" stroke="#2c2c2c" stroke-width="0.25" >DN25</text>
<path d="M0,-12.9 L17.5,-12.9" stroke="#3a3a3a" stroke-width="0.9" fill="none" />
<text transform="translate(1.6,-17.3)" y="3.42" font-size="10.2" text-anchor="start" fill="#2c2c2c" textLength="20" lengthAdjust="spacingAndGlyphs" stroke="#2c2c2c" stroke-width="0.25" >DN20</text>
<path d="M0,-4.4 L17.5,-4.4" stroke="#3a3a3a" stroke-width="0.9" fill="none" />
<text transform="translate(1.6,-8.8)" y="3.42" font-size="10.2" text-anchor="start" fill="#2c2c2c" textLength="20" lengthAdjust="spacingAndGlyphs" stroke="#2c2c2c" stroke-width="0.25" >DN20</text>
<path d="M-1.6,-1.2 L1.6,1.2" stroke="#222" stroke-width="0.9" fill="none" />
<path d="M-1.6,4.9 L1.6,7.3" stroke="#222" stroke-width="0.9" fill="none" />
<path d="M-1.6,11.3 L1.6,13.7" stroke="#222" stroke-width="0.9" fill="none" />
</g>
<g transform="translate(471.8,283.2) rotate(-45)">
<path d="M0,-30.3 L0,14.7" stroke="#3a3a3a" stroke-width="1.2" fill="none" />
<path d="M0,-21.4 L17.5,-21.4" stroke="#3a3a3a" stroke-width="0.9" fill="none" />
<text transform="translate(1.6,-25.8)" y="3.42" font-size="10.2" text-anchor="start" fill="#2c2c2c" textLength="20" lengthAdjust="spacingAndGlyphs" stroke="#2c2c2c" stroke-width="0.25" >DN25</text>
<path d="M0,-12.9 L17.5,-12.9" stroke="#3a3a3a" stroke-width="0.9" fill="none" />
<text transform="translate(1.6,-17.3)" y="3.42" font-size="10.2" text-anchor="start" fill="#2c2c2c" textLength="20" lengthAdjust="spacingAndGlyphs" stroke="#2c2c2c" stroke-width="0.25" >DN20</text>
<path d="M0,-4.4 L17.5,-4.4" stroke="#3a3a3a" stroke-width="0.9" fill="none" />
<text transform="translate(1.6,-8.8)" y="3.42" font-size="10.2" text-anchor="start" fill="#2c2c2c" textLength="20" lengthAdjust="spacingAndGlyphs" stroke="#2c2c2c" stroke-width="0.25" >DN20</text>
<path d="M-1.6,-1.2 L1.6,1.2" stroke="#222" stroke-width="0.9" fill="none" />
<path d="M-1.6,4.9 L1.6,7.3" stroke="#222" stroke-width="0.9" fill="none" />
<path d="M-1.6,11.3 L1.6,13.7" stroke="#222" stroke-width="0.9" fill="none" />
</g>
<g transform="translate(543.6,211.4) rotate(-45)">
<path d="M0,-30.3 L0,14.7" stroke="#3a3a3a" stroke-width="1.2" fill="none" />
<path d="M0,-21.4 L17.5,-21.4" stroke="#3a3a3a" stroke-width="0.9" fill="none" />
<text transform="translate(1.6,-25.8)" y="3.42" font-size="10.2" text-anchor="start" fill="#2c2c2c" textLength="20" lengthAdjust="spacingAndGlyphs" stroke="#2c2c2c" stroke-width="0.25" >DN20</text>
<path d="M0,-12.9 L17.5,-12.9" stroke="#3a3a3a" stroke-width="0.9" fill="none" />
<text transform="translate(1.6,-17.3)" y="3.42" font-size="10.2" text-anchor="start" fill="#2c2c2c" textLength="20" lengthAdjust="spacingAndGlyphs" stroke="#2c2c2c" stroke-width="0.25" >DN15</text>
<path d="M0,-4.4 L17.5,-4.4" stroke="#3a3a3a" stroke-width="0.9" fill="none" />
<text transform="translate(1.6,-8.8)" y="3.42" font-size="10.2" text-anchor="start" fill="#2c2c2c" textLength="20" lengthAdjust="spacingAndGlyphs" stroke="#2c2c2c" stroke-width="0.25" >DN20</text>
<path d="M-1.6,-1.2 L1.6,1.2" stroke="#222" stroke-width="0.9" fill="none" />
<path d="M-1.6,4.9 L1.6,7.3" stroke="#222" stroke-width="0.9" fill="none" />
<path d="M-1.6,11.3 L1.6,13.7" stroke="#222" stroke-width="0.9" fill="none" />
</g>
<g transform="translate(574.4,317.5) rotate(0)">
<path d="M0,-30.3 L0,14.7" stroke="#3a3a3a" stroke-width="1.2" fill="none" />
<path d="M0,-21.4 L17.5,-21.4" stroke="#3a3a3a" stroke-width="0.9" fill="none" />
<text transform="translate(1.6,-25.8)" y="3.42" font-size="10.2" text-anchor="start" fill="#2c2c2c" textLength="20" lengthAdjust="spacingAndGlyphs" stroke="#2c2c2c" stroke-width="0.25" >DN25</text>
<path d="M0,-12.9 L17.5,-12.9" stroke="#3a3a3a" stroke-width="0.9" fill="none" />
<text transform="translate(1.6,-17.3)" y="3.42" font-size="10.2" text-anchor="start" fill="#2c2c2c" textLength="20" lengthAdjust="spacingAndGlyphs" stroke="#2c2c2c" stroke-width="0.25" >DN20</text>
<path d="M0,-4.4 L17.5,-4.4" stroke="#3a3a3a" stroke-width="0.9" fill="none" />
<text transform="translate(1.6,-8.8)" y="3.42" font-size="10.2" text-anchor="start" fill="#2c2c2c" textLength="20" lengthAdjust="spacingAndGlyphs" stroke="#2c2c2c" stroke-width="0.25" >DN20</text>
<path d="M-1.6,-1.2 L1.6,1.2" stroke="#222" stroke-width="0.9" fill="none" />
<path d="M-1.6,4.9 L1.6,7.3" stroke="#222" stroke-width="0.9" fill="none" />
<path d="M-1.6,11.3 L1.6,13.7" stroke="#222" stroke-width="0.9" fill="none" />
</g>
<path d="M812.5,331.7 L833.4,352.6" stroke="#3a3a3a" stroke-width="1.1" fill="none" />
<g transform="translate(812.5,331.7) rotate(-45)">
<path d="M0,16.6 L17.5,16.6" stroke="#3a3a3a" stroke-width="0.9" fill="none" />
<text transform="translate(1.6,12.2)" y="3.42" font-size="10.2" text-anchor="start" fill="#2c2c2c" textLength="20" lengthAdjust="spacingAndGlyphs" stroke="#2c2c2c" stroke-width="0.25" >DN15</text>
<path d="M0,24.8 L17.5,24.8" stroke="#3a3a3a" stroke-width="0.9" fill="none" />
<text transform="translate(1.6,20.4)" y="3.42" font-size="10.2" text-anchor="start" fill="#2c2c2c" textLength="20" lengthAdjust="spacingAndGlyphs" stroke="#2c2c2c" stroke-width="0.25" >DN20</text>
</g>
<path d="M156.7,533.3 L156.7,648.3" stroke="#3fc858" stroke-width="1.15" fill="none" />
<path d="M152.3,532.3 Q153.3,534.8 154.5,534.6 Q155.8,534.3 156.4,532.8 Q157,531.4 157.7,531.7 Q158.9,532.1 160,534.1" stroke="#222" stroke-width="1.2" fill="none" />
<path d="M152.3,647.6 Q153.3,650.1 154.5,649.9 Q155.8,649.6 156.4,648.1 Q157,646.7 157.7,647 Q158.9,647.4 160,649.4" stroke="#222" stroke-width="1.2" fill="none" />
<path d="M156.7,579.5 L188.3,547.9" stroke="#3fc858" stroke-width="1.15" fill="none" />
<path d="M188.3,547.9 L197,539.2" stroke="#666666" stroke-width="1.8" fill="none" />
<path d="M197.2,539.2 L199.8,546.2" stroke="#6e6e6e" stroke-width="3.4" fill="none" />
<path d="M199.2,534.4 l9.2,8.6 l-2.6,0.9 l-6,-3.6 z" fill="#6e6e6e"/>
<path d="M198.4,546.4 L207.5,578.3 L269.2,578.3" stroke="#555" stroke-width="1" fill="none" />
<path d="M153,563.3 L160.8,563.3" stroke="#111" stroke-width="0.9" fill="none" />
<path d="M296.3,559.2 H250 L244.2,553.3 L288.6,508.2 Q293.4,503.3 299.6,503.3 H371.7 L375,506.7" stroke="#3fc858" stroke-width="1.15" fill="none" />
<path d="M308.7,573.1 L434.3,447.5 L423,435.8" stroke="#3fc858" stroke-width="1.15" fill="none" />
<path d="M330,455.5 L330,476.2 L345.8,476.2" stroke="#666666" stroke-width="1.8" fill="none" />
<path d="M345.8,476.2 L398.3,476.2 L402.2,480" stroke="#3fc858" stroke-width="1.15" fill="none" />
<circle cx="330" cy="450.8" r="4.8" fill="#f05a3a"/>
<text transform="translate(330,450.8)" y="2.02" font-size="5.6" text-anchor="middle" fill="#fff" font-weight="bold" opacity="0.82">9</text>
<path d="M308.7,539.2 L308.7,641.8" stroke="#3fc858" stroke-width="1.15" fill="none" />
<path d="M304.3,538.2 Q305.3,540.7 306.5,540.5 Q307.8,540.2 308.4,538.7 Q309,537.3 309.7,537.6 Q310.9,538 312,540" stroke="#222" stroke-width="1.2" fill="none" />
<path d="M304.3,641 Q305.3,643.5 306.5,643.3 Q307.8,643 308.4,641.5 Q309,640.1 309.7,640.4 Q310.9,640.8 312,642.8" stroke="#222" stroke-width="1.2" fill="none" />
<path d="M289,557.5 L305,557.5" stroke="#e2e2e2" stroke-width="0.9" fill="none" />
<path d="M289,573.3 L305,573.3" stroke="#e2e2e2" stroke-width="0.9" fill="none" />
<path d="M305.4,557.5 L312.8,557.5" stroke="#111" stroke-width="0.9" fill="none" />
<path d="M312.5,610.8 L340,610.8" stroke="#444" stroke-width="0.9" fill="none" />
<path d="M312.5,610.8 L308.4,615.8" stroke="#444" stroke-width="0.9" fill="none" />
<path d="M309.5,520.7 L320.2,520.7" stroke="#666666" stroke-width="1.3" fill="none" />
<path d="M310.4,520.9 Q311.4,524.5 315,524.7 Q318.6,524.5 319.6,520.9" stroke="#666666" stroke-width="1.7" fill="none" />
<circle cx="315" cy="515.3" r="4.6" fill="#f05a3a"/>
<text transform="translate(315,515.3)" y="2.02" font-size="5.6" text-anchor="middle" fill="#fff" font-weight="bold" opacity="0.82">16</text>
<path d="M314.6,524.6 V533 Q314.6,535.3 316.4,535.3 Q318.3,535.3 318.3,533 V528 H330.8" stroke="#666666" stroke-width="1.7" fill="none" />
<path d="M330.8,528 L342.2,539.6" stroke="#3fc858" stroke-width="1.15" fill="none" />
<path d="M278.8,533.2 L295.6,533.2" stroke="#666666" stroke-width="1.2" fill="none" />
<path d="M281.7,533.2 A5.7,5.7 0 0 0 293.1,533.2" stroke="#666666" stroke-width="1.6" fill="none" />
<circle cx="287.7" cy="528.4" r="4.7" fill="#f05a3a"/>
<text transform="translate(287.7,528.4)" y="2.02" font-size="5.6" text-anchor="middle" fill="#fff" font-weight="bold" opacity="0.82">23</text>
<path d="M287.2,538.8 V551.6 Q287.2,553.6 289.1,553.6 Q291,553.6 291,551.6 V542 Q291,539.8 293.6,539.8 Q296.3,539.8 296.3,542 V559.4" stroke="#666666" stroke-width="1.5" fill="none" />
<path d="M401.3,429.1 L412,429.1" stroke="#666666" stroke-width="1.3" fill="none" />
<path d="M402.2,429.3 Q403.2,432.9 406.8,433.1 Q410.4,432.9 411.4,429.3" stroke="#666666" stroke-width="1.7" fill="none" />
<circle cx="406.8" cy="423.7" r="4.6" fill="#f05a3a"/>
<text transform="translate(406.8,423.7)" y="2.02" font-size="5.6" text-anchor="middle" fill="#fff" font-weight="bold" opacity="0.82">7</text>
<path d="M406.6,433 V440.6 Q406.6,443 408.8,443 Q411,443 411,440.6 V435.8 H423" stroke="#666666" stroke-width="1.8" fill="none" />
<path d="M454.7,485.3 L454.7,620.8" stroke="#3fc858" stroke-width="1.15" fill="none" />
<path d="M450.3,484.3 Q451.3,486.8 452.5,486.6 Q453.8,486.3 454.4,484.8 Q455,483.4 455.7,483.7 Q456.9,484.1 458,486.1" stroke="#222" stroke-width="1.2" fill="none" />
<path d="M450.3,620 Q451.3,622.5 452.5,622.3 Q453.8,622 454.4,620.5 Q455,619.1 455.7,619.4 Q456.9,619.8 458,621.8" stroke="#222" stroke-width="1.2" fill="none" />
<path d="M450.8,548.7 L458.4,548.7" stroke="#111" stroke-width="0.9" fill="none" />
<path d="M454.7,553.3 L423.3,584.4" stroke="#3fc858" stroke-width="1.15" fill="none" />
<path d="M404.5,585.6 L415.2,585.6" stroke="#666666" stroke-width="1.3" fill="none" />
<path d="M405.4,585.8 Q406.4,589.4 410,589.6 Q413.6,589.4 414.6,585.8" stroke="#666666" stroke-width="1.7" fill="none" />
<circle cx="410" cy="580.2" r="4.6" fill="#f05a3a"/>
<text transform="translate(410,580.2)" y="2.02" font-size="5.6" text-anchor="middle" fill="#fff" font-weight="bold" opacity="0.82">14</text>
<path d="M410,589.4 V596.4 Q410,598.8 412.2,598.8 Q414.4,598.8 414.4,596.4 V592.8 L423.3,584.4" stroke="#666666" stroke-width="1.9" fill="none" />
<path d="M565.3,480 L565.3,615.8" stroke="#3fc858" stroke-width="1.15" fill="none" />
<path d="M560.9,479 Q561.9,481.5 563.1,481.3 Q564.4,481 565,479.5 Q565.6,478.1 566.3,478.4 Q567.5,478.8 568.6,480.8" stroke="#222" stroke-width="1.2" fill="none" />
<path d="M560.9,615 Q561.9,617.5 563.1,617.3 Q564.4,617 565,615.5 Q565.6,614.1 566.3,614.4 Q567.5,614.8 568.6,616.8" stroke="#222" stroke-width="1.2" fill="none" />
<path d="M560.8,531.7 L570,531.7" stroke="#111" stroke-width="0.9" fill="none" />
<path d="M565.3,548.3 L657.6,456 Q661.6,450.8 667.5,450.8 H692.5" stroke="#3fc858" stroke-width="1.15" fill="none" />
<path d="M520.1,468.5 L536.9,468.5" stroke="#666666" stroke-width="1.2" fill="none" />
<path d="M523,468.5 A5.7,5.7 0 0 0 534.4,468.5" stroke="#666666" stroke-width="1.6" fill="none" />
<circle cx="529" cy="463.7" r="4.7" fill="#f05a3a"/>
<text transform="translate(529,463.7)" y="2.02" font-size="5.6" text-anchor="middle" fill="#fff" font-weight="bold" opacity="0.82">21</text>
<path d="M528.4,474 V488.5 Q528.4,490.6 530.3,490.6 Q532.2,490.6 532.2,488.5 V477 Q532.2,474.7 534.4,474.7 Q536.7,474.7 536.7,477 V495.5" stroke="#666666" stroke-width="1.5" fill="none" />
<path d="M536.7,495.3 L562.4,495.3" stroke="#3fc858" stroke-width="1.15" fill="none" />
<path d="M570,495.3 L610.8,495.3 L614.6,499.1" stroke="#3fc858" stroke-width="1.15" fill="none" />
<path d="M615.7,429.7 H622.1 V434.9 H615.7 M615.7,429.7 V445.5 Q615.7,448.3 613,448.3 Q610.2,448.3 610.2,445.5 V441 Q610.2,438.8 608.6,438.8 Q607,438.8 607,441 V450.9" stroke="#666666" stroke-width="1.7" fill="none" />
<circle cx="621.6" cy="426.5" r="4.8" fill="#f05a3a"/>
<text transform="translate(621.6,426.5)" y="2.02" font-size="5.6" text-anchor="middle" fill="#fff" font-weight="bold" opacity="0.82">5</text>
<path d="M607,450.8 L655,450.8 L658.8,454.7" stroke="#3fc858" stroke-width="1.15" fill="none" />
<path d="M692.5,450.8 L703.6,450.8" stroke="#666666" stroke-width="1.8" fill="none" />
<path d="M703.7,443.3 L714.4,443.3" stroke="#666666" stroke-width="1.3" fill="none" />
<path d="M704.6,443.5 Q705.6,447.1 709.2,447.3 Q712.8,447.1 713.8,443.5" stroke="#666666" stroke-width="1.7" fill="none" />
<circle cx="709.2" cy="437.9" r="4.6" fill="#f05a3a"/>
<text transform="translate(709.2,437.9)" y="2.02" font-size="5.6" text-anchor="middle" fill="#fff" font-weight="bold" opacity="0.82">12</text>
<path d="M703.4,450.8 Q705.2,450.8 705.2,453 V455.6 Q705.2,458.2 707.4,458.2 Q709.6,458.2 709.6,455.6 V447.4" stroke="#666666" stroke-width="1.9" fill="none" />
<path d="M593.3,520.5 L628.3,514.2" stroke="#3fc858" stroke-width="1.15" fill="none" />
<path d="M628.3,514.2 L644.2,514.2 L644.2,493" stroke="#666666" stroke-width="1.8" fill="none" />
<circle cx="644.2" cy="488.4" r="4.7" fill="#f05a3a"/>
<text transform="translate(644.2,488.4)" y="2.02" font-size="5.6" text-anchor="middle" fill="#fff" font-weight="bold" opacity="0.82">19</text>
<path d="M644.2,500.2 H646.8 V506.6 H649.6" stroke="#666666" stroke-width="1.2" fill="none" />
<path d="M665.6,510 L665.6,615.8" stroke="#3fc858" stroke-width="1.15" fill="none" />
<path d="M661.2,509 Q662.2,511.5 663.4,511.3 Q664.7,511 665.3,509.5 Q665.9,508.1 666.6,508.4 Q667.8,508.8 668.9,510.8" stroke="#222" stroke-width="1.2" fill="none" />
<path d="M661.2,615 Q662.2,617.5 663.4,617.3 Q664.7,617 665.3,615.5 Q665.9,614.1 666.6,614.4 Q667.8,614.8 668.9,616.8" stroke="#222" stroke-width="1.2" fill="none" />
<path d="M660.6,531.7 L670,531.7" stroke="#111" stroke-width="0.9" fill="none" />
<path d="M665.6,548.3 L696.7,517.3" stroke="#3fc858" stroke-width="1.15" fill="none" />
<path d="M696.7,517.3 L704.2,509.8" stroke="#666666" stroke-width="1.8" fill="none" />
<path d="M704.4,509.8 L707,516.8" stroke="#6e6e6e" stroke-width="3.4" fill="none" />
<path d="M706.4,505 l9.2,8.6 l-2.6,0.9 l-6,-3.6 z" fill="#6e6e6e"/>
<path d="M709.6,510.6 L720.3,500 L781,500" stroke="#555" stroke-width="1" fill="none" />
<path d="M681.3,563.7 L718.3,563.7 L729.2,570.8" stroke="#555" stroke-width="1" fill="none" />
<path d="M723,571.2 L733.4,571.2" stroke="#666666" stroke-width="1.3" fill="none" />
<path d="M723.8,571.4 Q724.6,575 728.2,575.2 Q731.8,575 732.6,571.4" stroke="#666666" stroke-width="1.7" fill="none" />
<path d="M728.2,575.2 V582.8 Q728.2,585.3 730.4,585.3 Q732.6,585.3 732.6,582.8 V578.4 L740,570.3" stroke="#666666" stroke-width="1.9" fill="none" />
<path d="M740,570.3 L798.8,535" stroke="#3fc858" stroke-width="1.15" fill="none" />
<path d="M798.8,483.7 L798.8,602.5" stroke="#3fc858" stroke-width="1.15" fill="none" />
<path d="M794.4,482.7 Q795.4,485.2 796.6,485 Q797.9,484.7 798.5,483.2 Q799.1,481.8 799.8,482.1 Q801,482.5 802.1,484.5" stroke="#222" stroke-width="1.2" fill="none" />
<path d="M794.4,601.7 Q795.4,604.2 796.6,604 Q797.9,603.7 798.5,602.2 Q799.1,600.8 799.8,601.1 Q801,601.5 802.1,603.5" stroke="#222" stroke-width="1.2" fill="none" />
<path d="M795.8,527.9 L803.3,527.9" stroke="#111" stroke-width="0.9" fill="none" />
<path d="M833.3,474.2 L833.3,610" stroke="#3fc858" stroke-width="1.15" fill="none" />
<path d="M828.9,473.2 Q829.9,475.7 831.1,475.5 Q832.4,475.2 833,473.7 Q833.6,472.3 834.3,472.6 Q835.5,473 836.6,475" stroke="#222" stroke-width="1.2" fill="none" />
<path d="M828.9,609.2 Q829.9,611.7 831.1,611.5 Q832.4,611.2 833,609.7 Q833.6,608.3 834.3,608.6 Q835.5,609 836.6,611" stroke="#222" stroke-width="1.2" fill="none" />
<path d="M829.7,548.4 L837.5,548.4" stroke="#111" stroke-width="0.9" fill="none" />
<path d="M833.3,541.2 L888.4,486.7 L919.3,478.3" stroke="#3fc858" stroke-width="1.15" fill="none" />
<path d="M907.7,458.6 L907.7,468.5" stroke="#666666" stroke-width="1.8" fill="none" />
<path d="M910.3,469 V464.4 L919.3,456 V478.5" stroke="#666666" stroke-width="2" fill="none" />
<path d="M907.4,468.5 L924.8,468.5" stroke="#111" stroke-width="1" fill="none" />
<rect x="909.2" y="469" width="2.7" height="3.2" fill="#111"/>
<circle cx="908.3" cy="453.9" r="4.6" fill="#f05a3a"/>
<text transform="translate(908.3,453.9)" y="2.02" font-size="5.6" text-anchor="middle" fill="#fff" font-weight="bold" opacity="0.82">3</text>
<path d="M868.3,317.5 L868.3,371.7" stroke="#3fc858" stroke-width="1.15" fill="none" />
<path d="M868.3,380 L868.3,449.7" stroke="#3fc858" stroke-width="1.15" fill="none" />
<path d="M863.9,316.5 Q864.9,319 866.1,318.8 Q867.4,318.5 868,317 Q868.6,315.6 869.3,315.9 Q870.5,316.3 871.6,318.3" stroke="#222" stroke-width="1.2" fill="none" />
<path d="M863.9,449 Q864.9,451.5 866.1,451.3 Q867.4,451 868,449.5 Q868.6,448.1 869.3,448.4 Q870.5,448.8 871.6,450.8" stroke="#222" stroke-width="1.2" fill="none" />
<path d="M865,350.3 L872.6,350.3" stroke="#111" stroke-width="0.9" fill="none" />
<path d="M868.3,356.7 L813.7,411.1" stroke="#3fc858" stroke-width="1.15" fill="none" />
<path d="M813.7,411.1 L805.6,419" stroke="#666666" stroke-width="1.9" fill="none" />
<path d="M851.9,372.9 L854.8,375.8 L904.2,375.8" stroke="#3fc858" stroke-width="1.15" fill="none" />
<path d="M904.2,375.8 L915.4,375.8" stroke="#666666" stroke-width="1.8" fill="none" />
<path d="M795.3,412.7 L806,412.7" stroke="#666666" stroke-width="1.3" fill="none" />
<path d="M796.2,412.9 Q797.2,416.5 800.8,416.7 Q804.4,416.5 805.4,412.9" stroke="#666666" stroke-width="1.7" fill="none" />
<circle cx="800.8" cy="407.3" r="4.6" fill="#f05a3a"/>
<text transform="translate(800.8,407.3)" y="2.02" font-size="5.6" text-anchor="middle" fill="#fff" font-weight="bold" opacity="0.82">10</text>
<path d="M801,416.6 V423 Q801,425.4 803.2,425.4 Q805.5,425.4 805.5,423 V419.2" stroke="#666666" stroke-width="1.9" fill="none" />
<path d="M914.5,368.4 L925.2,368.4" stroke="#666666" stroke-width="1.3" fill="none" />
<path d="M915.4,368.6 Q916.4,372.2 920,372.4 Q923.6,372.2 924.6,368.6" stroke="#666666" stroke-width="1.7" fill="none" />
<circle cx="920" cy="363" r="4.6" fill="#f05a3a"/>
<text transform="translate(920,363)" y="2.02" font-size="5.6" text-anchor="middle" fill="#fff" font-weight="bold" opacity="0.82">17</text>
<path d="M915.2,375.8 Q916.6,375.8 916.6,378 V379.4 Q916.6,381.8 918.8,381.8 Q921,381.8 921,379.4 V372.4" stroke="#666666" stroke-width="1.9" fill="none" />
<path d="M136.3,563.3 L152,563.3" stroke="#ee5a2e" stroke-width="1.1" fill="none" />
<path d="M136.3,579.7 L152,579.7" stroke="#ee5a2e" stroke-width="1.1" fill="none" />
<path d="M138.7,563.3 L138.7,579.7" stroke="#ee5a2e" stroke-width="1.1" fill="none" />
<path d="M136.3,563.3 l3.4,-1 v2 z" stroke="#ee5a2e" stroke-width="0.4" fill="#ee5a2e" />
<path d="M136.3,579.7 l3.4,-1 v2 z" stroke="#ee5a2e" stroke-width="0.4" fill="#ee5a2e" />
<text transform="translate(133.8,571.5) rotate(-90)" y="3.29" font-size="9.2" text-anchor="middle" fill="#ee5a2e" textLength="13.2" lengthAdjust="spacingAndGlyphs" stroke="#ee5a2e" stroke-width="0.15">300</text>
<path d="M545,531.7 L560,531.7" stroke="#ee5a2e" stroke-width="1.1" fill="none" />
<path d="M545,548.2 L560,548.2" stroke="#ee5a2e" stroke-width="1.1" fill="none" />
<path d="M547.5,531.7 L547.5,548.2" stroke="#ee5a2e" stroke-width="1.1" fill="none" />
<path d="M545,531.7 l3.4,-1 v2 z" stroke="#ee5a2e" stroke-width="0.4" fill="#ee5a2e" />
<path d="M545,548.2 l3.4,-1 v2 z" stroke="#ee5a2e" stroke-width="0.4" fill="#ee5a2e" />
<text transform="translate(542.6,539.95) rotate(-90)" y="3.29" font-size="9.2" text-anchor="middle" fill="#ee5a2e" textLength="13.2" lengthAdjust="spacingAndGlyphs" stroke="#ee5a2e" stroke-width="0.15">300</text>
<path d="M644.6,531.7 L660,531.7" stroke="#ee5a2e" stroke-width="1.1" fill="none" />
<path d="M644.6,548.3 L660,548.3" stroke="#ee5a2e" stroke-width="1.1" fill="none" />
<path d="M647.5,531.7 L647.5,548.3" stroke="#ee5a2e" stroke-width="1.1" fill="none" />
<path d="M644.6,531.7 l3.4,-1 v2 z" stroke="#ee5a2e" stroke-width="0.4" fill="#ee5a2e" />
<path d="M644.6,548.3 l3.4,-1 v2 z" stroke="#ee5a2e" stroke-width="0.4" fill="#ee5a2e" />
<text transform="translate(642.6,540) rotate(-90)" y="3.29" font-size="9.2" text-anchor="middle" fill="#ee5a2e" textLength="13.2" lengthAdjust="spacingAndGlyphs" stroke="#ee5a2e" stroke-width="0.15">300</text>
<path d="M838.3,541.2 L850.8,541.2" stroke="#ee5a2e" stroke-width="0.9" fill="none" />
<path d="M838.3,548.7 L850.8,548.7" stroke="#ee5a2e" stroke-width="0.9" fill="none" />
<path d="M847.8,536.7 L847.8,553.3" stroke="#ee5a2e" stroke-width="0.9" fill="none" />
<path d="M847.8,541.2 l-1,-3 h2 z M847.8,548.7 l-1,3 h2 z" stroke="#ee5a2e" stroke-width="0.4" fill="#ee5a2e" />
<text transform="translate(842.9,544.8) rotate(-90)" y="3.15" font-size="8.8" text-anchor="middle" fill="#ee5a2e" textLength="11.5" lengthAdjust="spacingAndGlyphs" stroke="#ee5a2e" stroke-width="0.15">150</text>
<text transform="translate(82.5,487.5) rotate(-90)" y="3.42" font-size="10.2" text-anchor="middle" fill="#2c2c2c" textLength="19" lengthAdjust="spacingAndGlyphs" stroke="#2c2c2c" stroke-width="0.25" >DN15</text>
<text transform="translate(100.8,487.5) rotate(-90)" y="3.42" font-size="10.2" text-anchor="middle" fill="#2c2c2c" textLength="19" lengthAdjust="spacingAndGlyphs" stroke="#2c2c2c" stroke-width="0.25" >DN15</text>
<text transform="translate(121.7,460) rotate(-90)" y="3.42" font-size="10.2" text-anchor="middle" fill="#2c2c2c" textLength="19.6" lengthAdjust="spacingAndGlyphs" stroke="#2c2c2c" stroke-width="0.25" >DN20</text>
<text transform="translate(138.4,460) rotate(-90)" y="3.42" font-size="10.2" text-anchor="middle" fill="#2c2c2c" textLength="19.6" lengthAdjust="spacingAndGlyphs" stroke="#2c2c2c" stroke-width="0.25" >DN20</text>
<text transform="translate(155.8,454.2) rotate(-90)" y="3.42" font-size="10.2" text-anchor="middle" fill="#2c2c2c" textLength="19.6" lengthAdjust="spacingAndGlyphs" stroke="#2c2c2c" stroke-width="0.25" >DN20</text>
<text transform="translate(145,487)" y="3.42" font-size="10.2" text-anchor="middle" fill="#2c2c2c" textLength="19.6" lengthAdjust="spacingAndGlyphs" stroke="#2c2c2c" stroke-width="0.25" >DN20</text>
<text transform="translate(175,480.8)" y="3.42" font-size="10.2" text-anchor="middle" fill="#2c2c2c" textLength="19.6" lengthAdjust="spacingAndGlyphs" stroke="#2c2c2c" stroke-width="0.25" >DN20</text>
<text transform="translate(144.2,504.2)" y="3.42" font-size="10.2" text-anchor="middle" fill="#2c2c2c" textLength="19.6" lengthAdjust="spacingAndGlyphs" stroke="#2c2c2c" stroke-width="0.25" >DN20</text>
<text transform="translate(122.5,526.2)" y="3.42" font-size="10.2" text-anchor="middle" fill="#2c2c2c" textLength="19" lengthAdjust="spacingAndGlyphs" stroke="#2c2c2c" stroke-width="0.25" >DN15</text>
<text transform="translate(166.7,517) rotate(-45)" y="3.42" font-size="10.2" text-anchor="middle" fill="#2c2c2c" textLength="19" lengthAdjust="spacingAndGlyphs" stroke="#2c2c2c" stroke-width="0.25" >DN15</text>
<text transform="translate(185.8,399.5) rotate(-90)" y="3.42" font-size="10.2" text-anchor="middle" fill="#2c2c2c" textLength="19" lengthAdjust="spacingAndGlyphs" stroke="#2c2c2c" stroke-width="0.25" >DN15</text>
<text transform="translate(203.7,399.5) rotate(-90)" y="3.42" font-size="10.2" text-anchor="middle" fill="#2c2c2c" textLength="19" lengthAdjust="spacingAndGlyphs" stroke="#2c2c2c" stroke-width="0.25" >DN15</text>
<text transform="translate(221.3,421.2)" y="3.42" font-size="10.2" text-anchor="middle" fill="#2c2c2c" textLength="19" lengthAdjust="spacingAndGlyphs" stroke="#2c2c2c" stroke-width="0.25" >DN15</text>
<text transform="translate(220.8,439.7)" y="3.42" font-size="10.2" text-anchor="middle" fill="#2c2c2c" textLength="19" lengthAdjust="spacingAndGlyphs" stroke="#2c2c2c" stroke-width="0.25" >DN15</text>
<text transform="translate(289.7,310.8)" y="3.42" font-size="10.2" text-anchor="middle" fill="#2c2c2c" textLength="20" lengthAdjust="spacingAndGlyphs" stroke="#2c2c2c" stroke-width="0.25" >DN25</text>
<text transform="translate(611.7,184.2)" y="3.42" font-size="10.2" text-anchor="middle" fill="#2c2c2c" textLength="19" lengthAdjust="spacingAndGlyphs" stroke="#2c2c2c" stroke-width="0.25" >DN15</text>
<text transform="translate(637.2,168.5) rotate(-90)" y="3.42" font-size="10.2" text-anchor="middle" fill="#2c2c2c" textLength="19" lengthAdjust="spacingAndGlyphs" stroke="#2c2c2c" stroke-width="0.25" >DN15</text>
<text transform="translate(653,145)" y="3.42" font-size="10.2" text-anchor="middle" fill="#2c2c2c" textLength="19" lengthAdjust="spacingAndGlyphs" stroke="#2c2c2c" stroke-width="0.25" >DN15</text>
<text transform="translate(652.5,161.3)" y="3.42" font-size="10.2" text-anchor="middle" fill="#2c2c2c" textLength="19" lengthAdjust="spacingAndGlyphs" stroke="#2c2c2c" stroke-width="0.25" >DN15</text>
<text transform="translate(661.2,98.3) rotate(-90)" y="3.42" font-size="10.2" text-anchor="middle" fill="#2c2c2c" textLength="19" lengthAdjust="spacingAndGlyphs" stroke="#2c2c2c" stroke-width="0.25" >DN15</text>
<text transform="translate(676.7,98.3) rotate(-90)" y="3.42" font-size="10.2" text-anchor="middle" fill="#2c2c2c" textLength="19" lengthAdjust="spacingAndGlyphs" stroke="#2c2c2c" stroke-width="0.25" >DN15</text>
<text transform="translate(653.8,219.5) rotate(-90)" y="3.42" font-size="10.2" text-anchor="middle" fill="#2c2c2c" textLength="19" lengthAdjust="spacingAndGlyphs" stroke="#2c2c2c" stroke-width="0.25" >DN15</text>
<text transform="translate(669.2,219.5) rotate(-90)" y="3.42" font-size="10.2" text-anchor="middle" fill="#2c2c2c" textLength="19" lengthAdjust="spacingAndGlyphs" stroke="#2c2c2c" stroke-width="0.25" >DN15</text>
<text transform="translate(607.5,245.8)" y="3.42" font-size="10.2" text-anchor="middle" fill="#2c2c2c" textLength="19" lengthAdjust="spacingAndGlyphs" stroke="#2c2c2c" stroke-width="0.25" >DN15</text>
<text transform="translate(607.5,262.7)" y="3.42" font-size="10.2" text-anchor="middle" fill="#2c2c2c" textLength="19" lengthAdjust="spacingAndGlyphs" stroke="#2c2c2c" stroke-width="0.25" >DN15</text>
<text transform="translate(728.7,256.7) rotate(-90)" y="3.42" font-size="10.2" text-anchor="middle" fill="#2c2c2c" textLength="19" lengthAdjust="spacingAndGlyphs" stroke="#2c2c2c" stroke-width="0.25" >DN15</text>
<text transform="translate(745,256.7) rotate(-90)" y="3.42" font-size="10.2" text-anchor="middle" fill="#2c2c2c" textLength="19" lengthAdjust="spacingAndGlyphs" stroke="#2c2c2c" stroke-width="0.25" >DN15</text>
<text transform="translate(728.7,296.7) rotate(-90)" y="3.42" font-size="10.2" text-anchor="middle" fill="#2c2c2c" textLength="19.6" lengthAdjust="spacingAndGlyphs" stroke="#2c2c2c" stroke-width="0.25" >DN20</text>
<text transform="translate(744.4,296.7) rotate(-90)" y="3.42" font-size="10.2" text-anchor="middle" fill="#2c2c2c" textLength="19.6" lengthAdjust="spacingAndGlyphs" stroke="#2c2c2c" stroke-width="0.25" >DN20</text>
<text transform="translate(796.7,276.3) rotate(-90)" y="3.42" font-size="10.2" text-anchor="middle" fill="#2c2c2c" textLength="19" lengthAdjust="spacingAndGlyphs" stroke="#2c2c2c" stroke-width="0.25" >DN15</text>
<text transform="translate(812.8,276.3) rotate(-90)" y="3.42" font-size="10.2" text-anchor="middle" fill="#2c2c2c" textLength="19" lengthAdjust="spacingAndGlyphs" stroke="#2c2c2c" stroke-width="0.25" >DN15</text>
<text transform="translate(656.7,337.5) rotate(-45)" y="3.42" font-size="10.2" text-anchor="middle" fill="#2c2c2c" textLength="19" lengthAdjust="spacingAndGlyphs" stroke="#2c2c2c" stroke-width="0.25" >DN15</text>
<text transform="translate(668.3,350.8) rotate(-45)" y="3.42" font-size="10.2" text-anchor="middle" fill="#2c2c2c" textLength="19" lengthAdjust="spacingAndGlyphs" stroke="#2c2c2c" stroke-width="0.25" >DN15</text>
<text transform="translate(762,340) rotate(-45)" y="3.42" font-size="10.2" text-anchor="middle" fill="#2c2c2c" textLength="19" lengthAdjust="spacingAndGlyphs" stroke="#2c2c2c" stroke-width="0.25" >DN15</text>
<text transform="translate(605,374.3)" y="3.58" font-size="10" text-anchor="start" fill="#2c2c2c" textLength="29.7" lengthAdjust="spacingAndGlyphs" stroke="#2c2c2c" stroke-width="0.25" >H+0.45</text>
<text transform="translate(759.2,350.9)" y="3.58" font-size="10" text-anchor="start" fill="#2c2c2c" textLength="28.8" lengthAdjust="spacingAndGlyphs" stroke="#2c2c2c" stroke-width="0.25" >H+0.15</text>
<text transform="translate(173.2,555.6) rotate(-45)" y="3.42" font-size="10.2" text-anchor="middle" fill="#2c2c2c" textLength="19.8" lengthAdjust="spacingAndGlyphs" stroke="#2c2c2c" stroke-width="0.25" >DN50</text>
<text transform="translate(162.5,595.8) rotate(-90)" y="3.42" font-size="10.2" text-anchor="middle" fill="#2c2c2c" textLength="19.8" lengthAdjust="spacingAndGlyphs" stroke="#2c2c2c" stroke-width="0.25" >DN50</text>
<text transform="translate(261.7,527.5) rotate(-45)" y="3.42" font-size="10.2" text-anchor="middle" fill="#2c2c2c" textLength="19.8" lengthAdjust="spacingAndGlyphs" stroke="#2c2c2c" stroke-width="0.25" >DN50</text>
<text transform="translate(269.5,554.5)" y="3.42" font-size="10.2" text-anchor="middle" fill="#2c2c2c" textLength="19.8" lengthAdjust="spacingAndGlyphs" stroke="#2c2c2c" stroke-width="0.25" >DN50</text>
<text transform="translate(330.5,498)" y="3.42" font-size="10.2" text-anchor="middle" fill="#2c2c2c" textLength="19.8" lengthAdjust="spacingAndGlyphs" stroke="#2c2c2c" stroke-width="0.25" >DN50</text>
<text transform="translate(357,467.5)" y="3.42" font-size="10.2" text-anchor="middle" fill="#2c2c2c" textLength="23.8" lengthAdjust="spacingAndGlyphs" stroke="#2c2c2c" stroke-width="0.25" >DN100</text>
<text transform="translate(383.8,491.7) rotate(-45)" y="3.42" font-size="10.2" text-anchor="middle" fill="#2c2c2c" textLength="23.8" lengthAdjust="spacingAndGlyphs" stroke="#2c2c2c" stroke-width="0.25" >DN100</text>
<text transform="translate(356.7,518.3) rotate(-45)" y="3.42" font-size="10.2" text-anchor="middle" fill="#2c2c2c" textLength="23.8" lengthAdjust="spacingAndGlyphs" stroke="#2c2c2c" stroke-width="0.25" >DN100</text>
<text transform="translate(340,551.7) rotate(-45)" y="3.42" font-size="10.2" text-anchor="middle" fill="#2c2c2c" textLength="23.8" lengthAdjust="spacingAndGlyphs" stroke="#2c2c2c" stroke-width="0.25" >DN100</text>
<text transform="translate(332.5,538.3) rotate(45)" y="3.42" font-size="10.2" text-anchor="middle" fill="#2c2c2c" textLength="19.8" lengthAdjust="spacingAndGlyphs" stroke="#2c2c2c" stroke-width="0.25" >DN50</text>
<text transform="translate(314.2,584.2) rotate(-90)" y="3.42" font-size="10.2" text-anchor="middle" fill="#2c2c2c" textLength="23.8" lengthAdjust="spacingAndGlyphs" stroke="#2c2c2c" stroke-width="0.25" >DN100</text>
<text transform="translate(413.3,461.7) rotate(-45)" y="3.42" font-size="10.2" text-anchor="middle" fill="#2c2c2c" textLength="19.8" lengthAdjust="spacingAndGlyphs" stroke="#2c2c2c" stroke-width="0.25" >DN50</text>
<text transform="translate(460,514.8) rotate(-90)" y="3.42" font-size="10.2" text-anchor="middle" fill="#2c2c2c" textLength="23.8" lengthAdjust="spacingAndGlyphs" stroke="#2c2c2c" stroke-width="0.25" >DN100</text>
<text transform="translate(433,566.7) rotate(-45)" y="3.42" font-size="10.2" text-anchor="middle" fill="#2c2c2c" textLength="19.4" lengthAdjust="spacingAndGlyphs" stroke="#2c2c2c" stroke-width="0.25" >DN75</text>
<text transform="translate(583.8,490.3)" y="3.42" font-size="10.2" text-anchor="middle" fill="#2c2c2c" textLength="19.8" lengthAdjust="spacingAndGlyphs" stroke="#2c2c2c" stroke-width="0.25" >DN50</text>
<text transform="translate(636.3,445)" y="3.42" font-size="10.2" text-anchor="middle" fill="#2c2c2c" textLength="19.8" lengthAdjust="spacingAndGlyphs" stroke="#2c2c2c" stroke-width="0.25" >DN50</text>
<text transform="translate(681.7,445)" y="3.42" font-size="10.2" text-anchor="middle" fill="#2c2c2c" textLength="19.8" lengthAdjust="spacingAndGlyphs" stroke="#2c2c2c" stroke-width="0.25" >DN50</text>
<text transform="translate(637.3,468.3) rotate(-45)" y="3.42" font-size="10.2" text-anchor="middle" fill="#2c2c2c" textLength="19.4" lengthAdjust="spacingAndGlyphs" stroke="#2c2c2c" stroke-width="0.25" >DN75</text>
<text transform="translate(586.2,520) rotate(-45)" y="3.42" font-size="10.2" text-anchor="middle" fill="#2c2c2c" textLength="23.8" lengthAdjust="spacingAndGlyphs" stroke="#2c2c2c" stroke-width="0.25" >DN100</text>
<text transform="translate(611.3,523.6) rotate(-11)" y="3.42" font-size="10.2" text-anchor="middle" fill="#2c2c2c" textLength="19.4" lengthAdjust="spacingAndGlyphs" stroke="#2c2c2c" stroke-width="0.25" >DN75</text>
<text transform="translate(560,567.5) rotate(-90)" y="3.42" font-size="10.2" text-anchor="middle" fill="#2c2c2c" textLength="23.8" lengthAdjust="spacingAndGlyphs" stroke="#2c2c2c" stroke-width="0.25" >DN100</text>
<text transform="translate(660,570.8) rotate(-90)" y="3.42" font-size="10.2" text-anchor="middle" fill="#2c2c2c" textLength="19.8" lengthAdjust="spacingAndGlyphs" stroke="#2c2c2c" stroke-width="0.25" >DN50</text>
<text transform="translate(685,520.8) rotate(-45)" y="3.42" font-size="10.2" text-anchor="middle" fill="#2c2c2c" textLength="19.8" lengthAdjust="spacingAndGlyphs" stroke="#2c2c2c" stroke-width="0.25" >DN50</text>
<text transform="translate(758.3,552.5) rotate(-31)" y="3.42" font-size="10.2" text-anchor="middle" fill="#2c2c2c" textLength="19.4" lengthAdjust="spacingAndGlyphs" stroke="#2c2c2c" stroke-width="0.25" >DN75</text>
<text transform="translate(805.8,510) rotate(-90)" y="3.42" font-size="10.2" text-anchor="middle" fill="#2c2c2c" textLength="23.8" lengthAdjust="spacingAndGlyphs" stroke="#2c2c2c" stroke-width="0.25" >DN100</text>
<text transform="translate(827.5,504.2) rotate(-90)" y="3.42" font-size="10.2" text-anchor="middle" fill="#2c2c2c" textLength="23.8" lengthAdjust="spacingAndGlyphs" stroke="#2c2c2c" stroke-width="0.25" >DN100</text>
<text transform="translate(859.2,508.3) rotate(-45)" y="3.42" font-size="10.2" text-anchor="middle" fill="#2c2c2c" textLength="19.8" lengthAdjust="spacingAndGlyphs" stroke="#2c2c2c" stroke-width="0.25" >DN50</text>
<text transform="translate(898.8,478.3) rotate(-16)" y="3.42" font-size="10.2" text-anchor="middle" fill="#2c2c2c" textLength="19.8" lengthAdjust="spacingAndGlyphs" stroke="#2c2c2c" stroke-width="0.25" >DN50</text>
<text transform="translate(827.3,389.5) rotate(-45)" y="3.42" font-size="10.2" text-anchor="middle" fill="#2c2c2c" textLength="19.8" lengthAdjust="spacingAndGlyphs" stroke="#2c2c2c" stroke-width="0.25" >DN50</text>
<text transform="translate(890,370)" y="3.42" font-size="10.2" text-anchor="middle" fill="#2c2c2c" textLength="19.8" lengthAdjust="spacingAndGlyphs" stroke="#2c2c2c" stroke-width="0.25" >DN50</text>
<text transform="translate(863.2,400) rotate(-90)" y="3.42" font-size="10.2" text-anchor="middle" fill="#2c2c2c" textLength="23.8" lengthAdjust="spacingAndGlyphs" stroke="#2c2c2c" stroke-width="0.25" >DN100</text>
<text transform="translate(286.3,565.8) rotate(-90)" y="2.94" font-size="8.2" text-anchor="middle" fill="#222" textLength="12.5" lengthAdjust="spacingAndGlyphs" >300</text>
<text transform="translate(125.8,596.2)" y="3.48" font-size="10.4" text-anchor="start" fill="#2c2c2c" textLength="35" lengthAdjust="spacingAndGlyphs" stroke="#2c2c2c" stroke-width="0.25" >FL–5–07</text>
<path d="M125.8,602 L151.7,602 L156.4,608.4" stroke="#444" stroke-width="0.9" fill="none" />
<text transform="translate(313.3,605.8)" y="3.48" font-size="10.4" text-anchor="start" fill="#2c2c2c" textLength="36.7" lengthAdjust="spacingAndGlyphs" stroke="#2c2c2c" stroke-width="0.25" >WL–5–07</text>
<text transform="translate(429.2,476.7)" y="3.48" font-size="10.4" text-anchor="start" fill="#2c2c2c" textLength="41.6" lengthAdjust="spacingAndGlyphs" stroke="#2c2c2c" stroke-width="0.25" >YWL–5–05</text>
<text transform="translate(539.7,473.3)" y="3.48" font-size="10.4" text-anchor="start" fill="#2c2c2c" textLength="37" lengthAdjust="spacingAndGlyphs" stroke="#2c2c2c" stroke-width="0.25" >WL–5–08</text>
<text transform="translate(646.6,503.7)" y="3.48" font-size="10.4" text-anchor="start" fill="#2c2c2c" textLength="31.4" lengthAdjust="spacingAndGlyphs" stroke="#2c2c2c" stroke-width="0.25" >L–5–08</text>
<text transform="translate(773.3,475.8)" y="3.48" font-size="10.4" text-anchor="start" fill="#2c2c2c" textLength="39.2" lengthAdjust="spacingAndGlyphs" stroke="#2c2c2c" stroke-width="0.25" >YFL–5–14</text>
<text transform="translate(806.3,464.7)" y="3.48" font-size="10.4" text-anchor="start" fill="#2c2c2c" textLength="41.2" lengthAdjust="spacingAndGlyphs" stroke="#2c2c2c" stroke-width="0.25" >YWL–5–06</text>
<text transform="translate(845.3,309.7)" y="3.48" font-size="10.4" text-anchor="start" fill="#2c2c2c" textLength="38.9" lengthAdjust="spacingAndGlyphs" stroke="#2c2c2c" stroke-width="0.25" >YFL–5–16</text>
<text transform="translate(150.8,558.7)" y="3.58" font-size="10" text-anchor="middle" fill="#2c2c2c" textLength="4.6" lengthAdjust="spacingAndGlyphs" stroke="#2c2c2c" stroke-width="0.25" >F</text>
<text transform="translate(313.8,553)" y="3.58" font-size="10" text-anchor="middle" fill="#2c2c2c" textLength="4.6" lengthAdjust="spacingAndGlyphs" stroke="#2c2c2c" stroke-width="0.25" >F</text>
<text transform="translate(448.8,543.7)" y="3.58" font-size="10" text-anchor="middle" fill="#2c2c2c" textLength="4.6" lengthAdjust="spacingAndGlyphs" stroke="#2c2c2c" stroke-width="0.25" >F</text>
<text transform="translate(559.7,526.9)" y="3.58" font-size="10" text-anchor="middle" fill="#2c2c2c" textLength="4.6" lengthAdjust="spacingAndGlyphs" stroke="#2c2c2c" stroke-width="0.25" >F</text>
<text transform="translate(658.2,526.7)" y="3.58" font-size="10" text-anchor="middle" fill="#2c2c2c" textLength="4.6" lengthAdjust="spacingAndGlyphs" stroke="#2c2c2c" stroke-width="0.25" >F</text>
<text transform="translate(794.2,523.7)" y="3.58" font-size="10" text-anchor="middle" fill="#2c2c2c" textLength="4.6" lengthAdjust="spacingAndGlyphs" stroke="#2c2c2c" stroke-width="0.25" >F</text>
<text transform="translate(827.8,544.7)" y="3.58" font-size="10" text-anchor="middle" fill="#2c2c2c" textLength="4.6" lengthAdjust="spacingAndGlyphs" stroke="#2c2c2c" stroke-width="0.25" >F</text>
<text transform="translate(873.5,345.8)" y="3.58" font-size="10" text-anchor="middle" fill="#2c2c2c" textLength="4.6" lengthAdjust="spacingAndGlyphs" stroke="#2c2c2c" stroke-width="0.25" >F</text>
<text transform="translate(203.4,308.3)" y="2.81" font-size="7.6" text-anchor="middle" fill="#4a4a4a" textLength="28.3" lengthAdjust="spacingAndGlyphs" >接水表井</text>
<text transform="translate(335,311.2)" y="2.81" font-size="7.6" text-anchor="middle" fill="#4a4a4a" textLength="36.6" lengthAdjust="spacingAndGlyphs" >垫层内敷设</text>
<text transform="translate(551.1,309.2)" y="2.81" font-size="7.6" text-anchor="middle" fill="#4a4a4a" textLength="35.6" lengthAdjust="spacingAndGlyphs" >垫层内敷设</text>
<text transform="translate(365.2,394.2)" y="2.81" font-size="7.6" text-anchor="middle" fill="#4a4a4a" textLength="35.5" lengthAdjust="spacingAndGlyphs" >垫层内敷设</text>
<text transform="translate(574.4,243.7)" y="2.81" font-size="7.6" text-anchor="middle" fill="#4a4a4a" textLength="36.2" lengthAdjust="spacingAndGlyphs" >垫层内敷设</text>
<text transform="translate(264.2,438.3) rotate(-45)" y="2.81" font-size="7.6" text-anchor="middle" fill="#4a4a4a" textLength="36.5" lengthAdjust="spacingAndGlyphs" >垫层内敷设</text>
<text transform="translate(503.5,242.6) rotate(-45)" y="2.81" font-size="7.6" text-anchor="middle" fill="#4a4a4a" textLength="36.5" lengthAdjust="spacingAndGlyphs" >垫层内敷设</text>
<text transform="translate(105.3,415.7)" y="2.81" font-size="7.6" text-anchor="middle" fill="#4a4a4a" textLength="21.4" lengthAdjust="spacingAndGlyphs" >循环泵</text>
<text transform="translate(105.3,425.9)" y="2.81" font-size="7.6" text-anchor="middle" fill="#4a4a4a" textLength="21.4" lengthAdjust="spacingAndGlyphs" >单向阀</text>
<text transform="translate(237.1,571.3)" y="2.81" font-size="7.6" text-anchor="middle" fill="#4a4a4a" textLength="59.2" lengthAdjust="spacingAndGlyphs" >沉箱积水侧排地漏</text>
<text transform="translate(750.8,492.6)" y="2.81" font-size="7.6" text-anchor="middle" fill="#4a4a4a" textLength="59.2" lengthAdjust="spacingAndGlyphs" >沉箱积水侧排地漏</text>
<text transform="translate(699.7,557.2)" y="2.81" font-size="7.6" text-anchor="middle" fill="#4a4a4a" textLength="35.5" lengthAdjust="spacingAndGlyphs" >洗衣机地漏</text>
<text transform="translate(228.8,317.3)" y="2" font-size="5.6" text-anchor="middle" fill="#3f95db" class="hl" font-weight="bold">J</text>
<text transform="translate(276.3,317.3)" y="2" font-size="5.6" text-anchor="middle" fill="#3f95db" class="hl" font-weight="bold">J</text>
<text transform="translate(324.2,317.3)" y="2" font-size="5.6" text-anchor="middle" fill="#3f95db" class="hl" font-weight="bold">J</text>
<text transform="translate(371.8,317.3)" y="2" font-size="5.6" text-anchor="middle" fill="#3f95db" class="hl" font-weight="bold">J</text>
<text transform="translate(419.4,317.3)" y="2" font-size="5.6" text-anchor="middle" fill="#3f95db" class="hl" font-weight="bold">J</text>
<text transform="translate(497.5,317.3)" y="2" font-size="5.6" text-anchor="middle" fill="#3f95db" class="hl" font-weight="bold">J</text>
<text transform="translate(545.1,317.3)" y="2" font-size="5.6" text-anchor="middle" fill="#3f95db" class="hl" font-weight="bold">J</text>
<text transform="translate(592.4,317.3)" y="2" font-size="5.6" text-anchor="middle" fill="#3f95db" class="hl" font-weight="bold">J</text>
<text transform="translate(639.8,317.3)" y="2" font-size="5.6" text-anchor="middle" fill="#3f95db" class="hl" font-weight="bold">J</text>
<text transform="translate(760,317.3)" y="2" font-size="5.6" text-anchor="middle" fill="#3f95db" class="hl" font-weight="bold">J</text>
<text transform="translate(486.7,323.2)" y="1.86" font-size="5.2" text-anchor="middle" fill="#dc5a3a" textLength="7.6" lengthAdjust="spacingAndGlyphs" class="hl" font-weight="bold">RJ</text>
<text transform="translate(537.2,323.2)" y="1.86" font-size="5.2" text-anchor="middle" fill="#dc5a3a" textLength="7.6" lengthAdjust="spacingAndGlyphs" class="hl" font-weight="bold">RJ</text>
<text transform="translate(587.8,323.2)" y="1.86" font-size="5.2" text-anchor="middle" fill="#dc5a3a" textLength="7.6" lengthAdjust="spacingAndGlyphs" class="hl" font-weight="bold">RJ</text>
<text transform="translate(638.2,323.2)" y="1.86" font-size="5.2" text-anchor="middle" fill="#dc5a3a" textLength="7.6" lengthAdjust="spacingAndGlyphs" class="hl" font-weight="bold">RJ</text>
<text transform="translate(738.5,323.2)" y="1.86" font-size="5.2" text-anchor="middle" fill="#dc5a3a" textLength="7.6" lengthAdjust="spacingAndGlyphs" class="hl" font-weight="bold">RJ</text>
<text transform="translate(476.7,329.4)" y="1.86" font-size="5.2" text-anchor="middle" fill="#e67c34" textLength="7.6" lengthAdjust="spacingAndGlyphs" class="hl" font-weight="bold">RH</text>
<text transform="translate(527.6,329.4)" y="1.86" font-size="5.2" text-anchor="middle" fill="#e67c34" textLength="7.6" lengthAdjust="spacingAndGlyphs" class="hl" font-weight="bold">RH</text>
<text transform="translate(578.3,329.4)" y="1.86" font-size="5.2" text-anchor="middle" fill="#e67c34" textLength="7.6" lengthAdjust="spacingAndGlyphs" class="hl" font-weight="bold">RH</text>
<text transform="translate(629.4,329.4)" y="1.86" font-size="5.2" text-anchor="middle" fill="#e67c34" textLength="7.6" lengthAdjust="spacingAndGlyphs" class="hl" font-weight="bold">RH</text>
<text transform="translate(731,329.4)" y="1.86" font-size="5.2" text-anchor="middle" fill="#e67c34" textLength="7.6" lengthAdjust="spacingAndGlyphs" class="hl" font-weight="bold">RH</text>
<text transform="translate(564.2,257.5)" y="2" font-size="5.6" text-anchor="middle" fill="#3f95db" class="hl" font-weight="bold">J</text>
<text transform="translate(611.7,257.5)" y="2" font-size="5.6" text-anchor="middle" fill="#3f95db" class="hl" font-weight="bold">J</text>
<text transform="translate(565.8,251.5)" y="1.86" font-size="5.2" text-anchor="middle" fill="#dc5a3a" textLength="7.6" lengthAdjust="spacingAndGlyphs" class="hl" font-weight="bold">RJ</text>
<text transform="translate(616.7,251.5)" y="1.86" font-size="5.2" text-anchor="middle" fill="#dc5a3a" textLength="7.6" lengthAdjust="spacingAndGlyphs" class="hl" font-weight="bold">RJ</text>
<text transform="translate(344.4,380.3)" y="1.86" font-size="5.2" text-anchor="middle" fill="#dc5a3a" textLength="7.6" lengthAdjust="spacingAndGlyphs" class="hl" font-weight="bold">RJ</text>
<text transform="translate(346.8,386.7)" y="1.86" font-size="5.2" text-anchor="middle" fill="#e67c34" textLength="7.6" lengthAdjust="spacingAndGlyphs" class="hl" font-weight="bold">RH</text>
<text transform="translate(405,350) rotate(-45)" y="2" font-size="5.6" text-anchor="middle" fill="#3f95db" class="hl" font-weight="bold">J</text>
<text transform="translate(409.4,354.1) rotate(-45)" y="1.86" font-size="5.2" text-anchor="middle" fill="#dc5a3a" textLength="7.6" lengthAdjust="spacingAndGlyphs" class="hl" font-weight="bold">RJ</text>
<text transform="translate(416,356.5) rotate(-45)" y="1.86" font-size="5.2" text-anchor="middle" fill="#e67c34" textLength="7.6" lengthAdjust="spacingAndGlyphs" class="hl" font-weight="bold">RH</text>
<text transform="translate(540.8,214.2) rotate(-45)" y="2" font-size="5.6" text-anchor="middle" fill="#3f95db" class="hl" font-weight="bold">J</text>
<text transform="translate(551.7,211.8) rotate(-45)" y="1.86" font-size="5.2" text-anchor="middle" fill="#dc5a3a" textLength="7.6" lengthAdjust="spacingAndGlyphs" class="hl" font-weight="bold">RJ</text>
<text transform="translate(557.5,215) rotate(-45)" y="1.86" font-size="5.2" text-anchor="middle" fill="#e67c34" textLength="7.6" lengthAdjust="spacingAndGlyphs" class="hl" font-weight="bold">RH</text>
<text transform="translate(506.7,248.3) rotate(-45)" y="2" font-size="5.6" text-anchor="middle" fill="#3f95db" class="hl" font-weight="bold">J</text>
<text transform="translate(515.8,247.7) rotate(-45)" y="1.86" font-size="5.2" text-anchor="middle" fill="#dc5a3a" textLength="7.6" lengthAdjust="spacingAndGlyphs" class="hl" font-weight="bold">RJ</text>
<text transform="translate(521.7,250.8) rotate(-45)" y="1.86" font-size="5.2" text-anchor="middle" fill="#e67c34" textLength="7.6" lengthAdjust="spacingAndGlyphs" class="hl" font-weight="bold">RH</text>
<text transform="translate(574.2,180.8) rotate(-45)" y="2" font-size="5.6" text-anchor="middle" fill="#3f95db" class="hl" font-weight="bold">J</text>
<text transform="translate(588.3,175.2) rotate(-45)" y="1.86" font-size="5.2" text-anchor="middle" fill="#dc5a3a" textLength="7.6" lengthAdjust="spacingAndGlyphs" class="hl" font-weight="bold">RJ</text>
<text transform="translate(594.2,178.3) rotate(-45)" y="1.86" font-size="5.2" text-anchor="middle" fill="#e67c34" textLength="7.6" lengthAdjust="spacingAndGlyphs" class="hl" font-weight="bold">RH</text>
<text transform="translate(480.8,282.7) rotate(-45)" y="1.86" font-size="5.2" text-anchor="middle" fill="#dc5a3a" textLength="7.6" lengthAdjust="spacingAndGlyphs" class="hl" font-weight="bold">RJ</text>
<text transform="translate(486.7,285.8) rotate(-45)" y="1.86" font-size="5.2" text-anchor="middle" fill="#e67c34" textLength="7.6" lengthAdjust="spacingAndGlyphs" class="hl" font-weight="bold">RH</text>
<text transform="translate(445,318.5) rotate(-45)" y="1.86" font-size="5.2" text-anchor="middle" fill="#dc5a3a" textLength="7.6" lengthAdjust="spacingAndGlyphs" class="hl" font-weight="bold">RJ</text>
<text transform="translate(450.6,321.9) rotate(-45)" y="1.86" font-size="5.2" text-anchor="middle" fill="#e67c34" textLength="7.6" lengthAdjust="spacingAndGlyphs" class="hl" font-weight="bold">RH</text>
<text transform="translate(187,488.2) rotate(-45)" y="2" font-size="5.6" text-anchor="middle" fill="#3f95db" class="hl" font-weight="bold">J</text>
<text transform="translate(238,445.7) rotate(-45)" y="1.86" font-size="5.2" text-anchor="middle" fill="#dc5a3a" textLength="7.6" lengthAdjust="spacingAndGlyphs" class="hl" font-weight="bold">RJ</text>
<text transform="translate(232.5,459.9) rotate(-45)" y="1.86" font-size="5.2" text-anchor="middle" fill="#e67c34" textLength="7.6" lengthAdjust="spacingAndGlyphs" class="hl" font-weight="bold">RH</text>
<text transform="translate(252,440.4) rotate(-45)" y="1.86" font-size="5.2" text-anchor="middle" fill="#e67c34" textLength="7.6" lengthAdjust="spacingAndGlyphs" class="hl" font-weight="bold">RH</text>
<text transform="translate(282.4,401.3) rotate(-45)" y="1.86" font-size="5.2" text-anchor="middle" fill="#dc5a3a" textLength="7.6" lengthAdjust="spacingAndGlyphs" class="hl" font-weight="bold">RJ</text>
<text transform="translate(270.8,421.6) rotate(-45)" y="1.86" font-size="5.2" text-anchor="middle" fill="#e67c34" textLength="7.6" lengthAdjust="spacingAndGlyphs" class="hl" font-weight="bold">RH</text>
<text transform="translate(273,402.2) rotate(-45)" y="2" font-size="5.6" text-anchor="middle" fill="#3f95db" class="hl" font-weight="bold">J</text>
<text transform="translate(156.7,498.3)" y="1.86" font-size="5.2" text-anchor="middle" fill="#dc5a3a" textLength="7.6" lengthAdjust="spacingAndGlyphs" class="hl" font-weight="bold">RJ</text>
<text transform="translate(157.5,492.2)" y="2" font-size="5.6" text-anchor="middle" fill="#3f95db" class="hl" font-weight="bold">J</text>
<text transform="translate(118.3,530.8)" y="2" font-size="5.6" text-anchor="middle" fill="#3f95db" class="hl" font-weight="bold">J</text>
<text transform="translate(94.5,488.3) rotate(-90)" y="2" font-size="5.6" text-anchor="middle" fill="#3f95db" class="hl" font-weight="bold">J</text>
<text transform="translate(127.3,453.3) rotate(-90)" y="1.86" font-size="5.2" text-anchor="middle" fill="#dc5a3a" textLength="7.6" lengthAdjust="spacingAndGlyphs" class="hl" font-weight="bold">RJ</text>
<text transform="translate(147.7,455.8) rotate(-90)" y="1.86" font-size="5.2" text-anchor="middle" fill="#e67c34" textLength="7.6" lengthAdjust="spacingAndGlyphs" class="hl" font-weight="bold">RH</text>
<text transform="translate(133.3,447) rotate(-90)" y="2" font-size="5.6" text-anchor="middle" fill="#3f95db" class="hl" font-weight="bold">J</text>
<text transform="translate(221.5,426.8)" y="2" font-size="5.6" text-anchor="middle" fill="#3f95db" class="hl" font-weight="bold">J</text>
<text transform="translate(219.6,432.5)" y="1.86" font-size="5.2" text-anchor="middle" fill="#dc5a3a" textLength="7.6" lengthAdjust="spacingAndGlyphs" class="hl" font-weight="bold">RJ</text>
<text transform="translate(192.8,398) rotate(-90)" y="1.86" font-size="5.2" text-anchor="middle" fill="#dc5a3a" textLength="7.6" lengthAdjust="spacingAndGlyphs" class="hl" font-weight="bold">RJ</text>
<text transform="translate(198.5,396) rotate(-90)" y="2" font-size="5.6" text-anchor="middle" fill="#3f95db" class="hl" font-weight="bold">J</text>
<text transform="translate(704.2,298.3) rotate(-45)" y="1.86" font-size="5.2" text-anchor="middle" fill="#dc5a3a" textLength="7.6" lengthAdjust="spacingAndGlyphs" class="hl" font-weight="bold">RJ</text>
<text transform="translate(709.4,301.4) rotate(-45)" y="2" font-size="5.6" text-anchor="middle" fill="#3f95db" class="hl" font-weight="bold">J</text>
<text transform="translate(669.6,332.9) rotate(-45)" y="1.86" font-size="5.2" text-anchor="middle" fill="#dc5a3a" textLength="7.6" lengthAdjust="spacingAndGlyphs" class="hl" font-weight="bold">RJ</text>
<text transform="translate(675.8,335) rotate(-45)" y="2" font-size="5.6" text-anchor="middle" fill="#3f95db" class="hl" font-weight="bold">J</text>
<text transform="translate(775.5,334.6) rotate(-45)" y="2" font-size="5.6" text-anchor="middle" fill="#3f95db" class="hl" font-weight="bold">J</text>
<text transform="translate(739.2,281.3) rotate(-90)" y="2" font-size="5.6" text-anchor="middle" fill="#3f95db" class="hl" font-weight="bold">J</text>
<text transform="translate(807.5,256.7) rotate(-90)" y="1.86" font-size="5.2" text-anchor="middle" fill="#dc5a3a" textLength="7.6" lengthAdjust="spacingAndGlyphs" class="hl" font-weight="bold">RJ</text>
<text transform="translate(807.5,306.7) rotate(-90)" y="1.86" font-size="5.2" text-anchor="middle" fill="#dc5a3a" textLength="7.6" lengthAdjust="spacingAndGlyphs" class="hl" font-weight="bold">RJ</text>
<text transform="translate(801.5,269.2) rotate(-90)" y="2" font-size="5.6" text-anchor="middle" fill="#3f95db" class="hl" font-weight="bold">J</text>
<text transform="translate(671.7,103.3) rotate(-90)" y="1.86" font-size="5.2" text-anchor="middle" fill="#dc5a3a" textLength="7.6" lengthAdjust="spacingAndGlyphs" class="hl" font-weight="bold">RJ</text>
<text transform="translate(665.8,112.2) rotate(-90)" y="2" font-size="5.6" text-anchor="middle" fill="#3f95db" class="hl" font-weight="bold">J</text>
<text transform="translate(664.2,219.2) rotate(-90)" y="1.86" font-size="5.2" text-anchor="middle" fill="#dc5a3a" textLength="7.6" lengthAdjust="spacingAndGlyphs" class="hl" font-weight="bold">RJ</text>
<text transform="translate(658.3,226.7) rotate(-90)" y="2" font-size="5.6" text-anchor="middle" fill="#3f95db" class="hl" font-weight="bold">J</text>
<text transform="translate(631.7,164.4) rotate(-90)" y="2" font-size="5.6" text-anchor="middle" fill="#3f95db" class="hl" font-weight="bold">J</text>
<text transform="translate(156.7,568.7) rotate(-90)" y="1.93" font-size="5.4" text-anchor="middle" fill="#3fc858" class="hl" font-weight="bold">W</text>
<text transform="translate(156.7,616.7) rotate(-90)" y="1.93" font-size="5.4" text-anchor="middle" fill="#3fc858" class="hl" font-weight="bold">W</text>
<text transform="translate(308.7,568.3) rotate(-90)" y="1.93" font-size="5.4" text-anchor="middle" fill="#3fc858" class="hl" font-weight="bold">W</text>
<text transform="translate(308.7,615) rotate(-90)" y="1.93" font-size="5.4" text-anchor="middle" fill="#3fc858" class="hl" font-weight="bold">W</text>
<text transform="translate(454.7,530.8) rotate(-90)" y="1.93" font-size="5.4" text-anchor="middle" fill="#3fc858" class="hl" font-weight="bold">W</text>
<text transform="translate(454.7,578) rotate(-90)" y="1.93" font-size="5.4" text-anchor="middle" fill="#3fc858" class="hl" font-weight="bold">W</text>
<text transform="translate(565.3,526.7) rotate(-90)" y="1.93" font-size="5.4" text-anchor="middle" fill="#3fc858" class="hl" font-weight="bold">W</text>
<text transform="translate(565.3,573) rotate(-90)" y="1.93" font-size="5.4" text-anchor="middle" fill="#3fc858" class="hl" font-weight="bold">W</text>
<text transform="translate(665.6,540.8) rotate(-90)" y="1.93" font-size="5.4" text-anchor="middle" fill="#3fc858" class="hl" font-weight="bold">W</text>
<text transform="translate(665.6,587.7) rotate(-90)" y="1.93" font-size="5.4" text-anchor="middle" fill="#3fc858" class="hl" font-weight="bold">W</text>
<text transform="translate(798.8,518.3) rotate(-90)" y="1.93" font-size="5.4" text-anchor="middle" fill="#3fc858" class="hl" font-weight="bold">W</text>
<text transform="translate(798.8,567.5) rotate(-90)" y="1.93" font-size="5.4" text-anchor="middle" fill="#3fc858" class="hl" font-weight="bold">W</text>
<text transform="translate(833.3,519.2) rotate(-90)" y="1.93" font-size="5.4" text-anchor="middle" fill="#3fc858" class="hl" font-weight="bold">W</text>
<text transform="translate(833.3,566.7) rotate(-90)" y="1.93" font-size="5.4" text-anchor="middle" fill="#3fc858" class="hl" font-weight="bold">W</text>
<text transform="translate(868.3,345.8) rotate(-90)" y="1.93" font-size="5.4" text-anchor="middle" fill="#3fc858" class="hl" font-weight="bold">W</text>
<text transform="translate(868.3,416.7) rotate(-90)" y="1.93" font-size="5.4" text-anchor="middle" fill="#3fc858" class="hl" font-weight="bold">W</text>
<text transform="translate(370.8,476.2)" y="1.93" font-size="5.4" text-anchor="middle" fill="#3fc858" class="hl" font-weight="bold">W</text>
<text transform="translate(334.2,503.5)" y="1.93" font-size="5.4" text-anchor="middle" fill="#3fc858" class="hl" font-weight="bold">W</text>
<text transform="translate(879.6,375.8)" y="1.93" font-size="5.4" text-anchor="middle" fill="#3fc858" class="hl" font-weight="bold">W</text>
<text transform="translate(405,476.8) rotate(-45)" y="1.93" font-size="5.4" text-anchor="middle" fill="#3fc858" class="hl" font-weight="bold">W</text>
<text transform="translate(372.3,509.5) rotate(-45)" y="1.93" font-size="5.4" text-anchor="middle" fill="#3fc858" class="hl" font-weight="bold">W</text>
<text transform="translate(265.8,531.7) rotate(-45)" y="1.93" font-size="5.4" text-anchor="middle" fill="#3fc858" class="hl" font-weight="bold">W</text>
<text transform="translate(629,484.6) rotate(-45)" y="1.93" font-size="5.4" text-anchor="middle" fill="#3fc858" class="hl" font-weight="bold">W</text>
<text transform="translate(840.2,384.6) rotate(-45)" y="1.93" font-size="5.4" text-anchor="middle" fill="#3fc858" class="hl" font-weight="bold">W</text>
<text transform="translate(860.8,513.8) rotate(-45)" y="1.93" font-size="5.4" text-anchor="middle" fill="#3fc858" class="hl" font-weight="bold">W</text>
<text transform="translate(769.7,552.4) rotate(-31)" y="1.93" font-size="5.4" text-anchor="middle" fill="#3fc858" class="hl" font-weight="bold">W</text>
</svg>
</body></html>
